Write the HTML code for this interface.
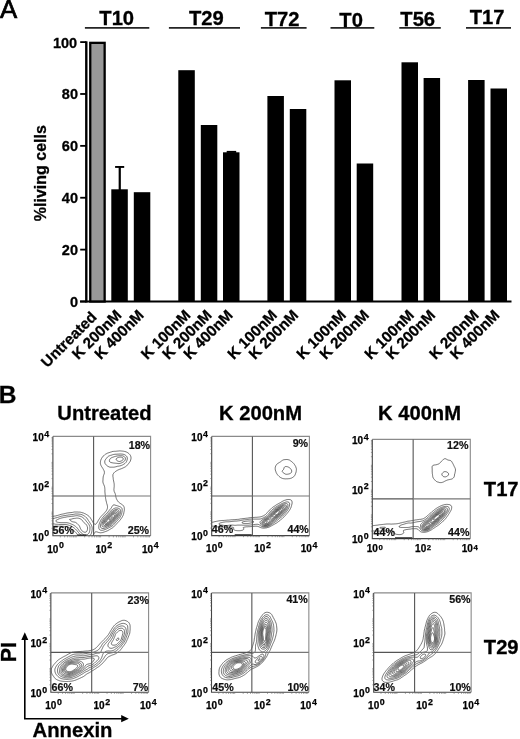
<!DOCTYPE html>
<html><head><meta charset="utf-8"><title>Figure</title>
<style>html,body{margin:0;padding:0;background:#fff}svg{display:block}text{font-family:"Liberation Sans", Arial, Helvetica, sans-serif;stroke:#000;stroke-width:.3px}.p{stroke:#111;stroke-width:.2px}.s{stroke-width:.25px}</style>
</head><body>
<svg width="520" height="739" viewBox="0 0 520 739" font-family='"Liberation Sans", Arial, Helvetica, sans-serif' fill="#000">
<rect width="520" height="739" fill="#fff"/>
<text x="-0.1" y="18" font-size="25.8" font-weight="400" style="stroke-width:.7px">A</text>
<rect x="85.1" y="41.3" width="2.4" height="261.2" fill="#000"/>
<rect x="80" y="300.5" width="431.5" height="2" fill="#000"/>
<rect x="80.2" y="300.60" width="6" height="1.8" fill="#000"/>
<text x="78" y="306.80" font-size="14.5" font-weight="700" text-anchor="end">0</text>
<rect x="80.2" y="248.72" width="6" height="1.8" fill="#000"/>
<text x="78" y="254.92" font-size="14.5" font-weight="700" text-anchor="end">20</text>
<rect x="80.2" y="196.84" width="6" height="1.8" fill="#000"/>
<text x="78" y="203.04" font-size="14.5" font-weight="700" text-anchor="end">40</text>
<rect x="80.2" y="144.96" width="6" height="1.8" fill="#000"/>
<text x="78" y="151.16" font-size="14.5" font-weight="700" text-anchor="end">60</text>
<rect x="80.2" y="93.08" width="6" height="1.8" fill="#000"/>
<text x="78" y="99.28" font-size="14.5" font-weight="700" text-anchor="end">80</text>
<rect x="80.2" y="41.20" width="6" height="1.8" fill="#000"/>
<text x="77.2" y="48.40" font-size="14.5" font-weight="700" text-anchor="end">100</text>
<text transform="translate(46 173.2) rotate(-90)" font-size="16" font-weight="700" text-anchor="middle">%living cells</text>
<rect x="90.25" y="42.85" width="14.4" height="258.65" fill="#999" stroke="#000" stroke-width="2.3"/>
<rect x="111.3" y="189.3" width="16.5" height="112.20" fill="#000"/>
<rect x="133.8" y="192.2" width="16.5" height="109.30" fill="#000"/>
<rect x="178.3" y="70.2" width="16.5" height="231.30" fill="#000"/>
<rect x="200.8" y="125" width="16.5" height="176.50" fill="#000"/>
<rect x="223.0" y="152.3" width="16.5" height="149.20" fill="#000"/>
<rect x="267.4" y="96" width="16.5" height="205.50" fill="#000"/>
<rect x="289.8" y="109" width="16.5" height="192.50" fill="#000"/>
<rect x="334.5" y="80.3" width="16.5" height="221.20" fill="#000"/>
<rect x="356.7" y="163.5" width="16.5" height="138.00" fill="#000"/>
<rect x="401.5" y="62.3" width="16.5" height="239.20" fill="#000"/>
<rect x="423.6" y="78" width="16.5" height="223.50" fill="#000"/>
<rect x="468.1" y="80" width="16.5" height="221.50" fill="#000"/>
<rect x="490.5" y="88.5" width="16.5" height="213.00" fill="#000"/>
<rect x="118.65" y="167" width="2.2" height="24" fill="#000"/><rect x="115.1" y="166" width="9.1" height="1.9" fill="#000"/>
<rect x="226.7" y="150.9" width="9.5" height="2" fill="#000"/>
<text x="99.3" y="25.3" font-size="20.2" font-weight="700">T10</text>
<rect x="84.9" y="27.15" width="64.40" height="1.5" fill="#000"/>
<text x="188.9" y="25.3" font-size="20.2" font-weight="700">T29</text>
<rect x="168.9" y="27.15" width="71.10" height="1.5" fill="#000"/>
<text x="264.7" y="25.7" font-size="20.2" font-weight="700">T72</text>
<rect x="260.9" y="27.15" width="45.70" height="1.5" fill="#000"/>
<text x="339.3" y="26.5" font-size="20.2" font-weight="700">T0</text>
<rect x="330.5" y="27.15" width="43.80" height="1.5" fill="#000"/>
<text x="400.3" y="26.3" font-size="20.2" font-weight="700">T56</text>
<rect x="399.3" y="27.15" width="41.50" height="1.5" fill="#000"/>
<text x="469.7" y="24.4" font-size="20.2" font-weight="700">T17</text>
<rect x="466" y="27.15" width="45.00" height="1.5" fill="#000"/>
<text transform="translate(97.5 318) rotate(-45)" font-size="15.2" font-weight="700" text-anchor="end">Untreated</text>
<text transform="translate(122.5 316) rotate(-45)" font-size="15.2" font-weight="700" text-anchor="end">K 200nM</text>
<text transform="translate(144.8 316) rotate(-45)" font-size="15.2" font-weight="700" text-anchor="end">K 400nM</text>
<text transform="translate(191.5 316) rotate(-45)" font-size="15.2" font-weight="700" text-anchor="end">K 100nM</text>
<text transform="translate(212.7 316) rotate(-45)" font-size="15.2" font-weight="700" text-anchor="end">K 200nM</text>
<text transform="translate(233.8 316) rotate(-45)" font-size="15.2" font-weight="700" text-anchor="end">K 400nM</text>
<text transform="translate(278 316) rotate(-45)" font-size="15.2" font-weight="700" text-anchor="end">K 100nM</text>
<text transform="translate(299.2 316) rotate(-45)" font-size="15.2" font-weight="700" text-anchor="end">K 200nM</text>
<text transform="translate(347 316) rotate(-45)" font-size="15.2" font-weight="700" text-anchor="end">K 100nM</text>
<text transform="translate(370 316) rotate(-45)" font-size="15.2" font-weight="700" text-anchor="end">K 200nM</text>
<text transform="translate(414.9 316) rotate(-45)" font-size="15.2" font-weight="700" text-anchor="end">K 100nM</text>
<text transform="translate(436.1 316) rotate(-45)" font-size="15.2" font-weight="700" text-anchor="end">K 200nM</text>
<text transform="translate(479.6 316) rotate(-45)" font-size="15.2" font-weight="700" text-anchor="end">K 200nM</text>
<text transform="translate(500.4 316) rotate(-45)" font-size="15.2" font-weight="700" text-anchor="end">K 400nM</text>
<text x="-1.3" y="402.6" font-size="24.5" font-weight="700">B</text>
<text x="57.3" y="420.4" font-size="20.2" font-weight="700">Untreated</text>
<text x="219" y="420.2" font-size="20.2" font-weight="700">K 200nM</text>
<text x="378" y="420.2" font-size="20.2" font-weight="700">K 400nM</text>
<text x="483.8" y="496.4" font-size="20.2" font-weight="700">T17</text>
<text x="483.8" y="653.5" font-size="20.2" font-weight="700">T29</text>
<text transform="translate(15.6 652.2) rotate(-90)" font-size="21.5" font-weight="700" text-anchor="middle">PI</text>
<text x="32.5" y="737.4" font-size="20.3" font-weight="700">Annexin</text>
<path d="M24.8 638 V718.7 H123" fill="none" stroke="#000" stroke-width="1.6"/>
<path d="M24.8 632.3 L21.3 640 H28.3 Z M128.8 718.7 L121.2 715.1 V722.3 Z" fill="#000"/>
<g transform="translate(52.9 436.4)">
<svg x="0" y="0" width="97.7" height="99.4" overflow="hidden"><path d="M0.0 80.0 0.5 79.9 1.5 79.7 2.5 79.6 3.0 79.4 4.0 79.2 4.8 79.0 5.5 78.8 6.5 78.5 7.0 78.3 8.0 78.0 8.5 77.9 9.5 77.7 10.5 77.5 11.0 77.4 12.0 77.2 12.6 77.0 13.5 76.8 14.5 76.6 15.2 76.5 16.0 76.4 17.0 76.3 18.0 76.2 19.0 76.1 19.6 76.0 20.5 75.8 21.5 75.6 22.5 75.6 23.5 75.6 24.5 75.6 25.5 75.7 26.5 75.7 27.5 75.8 28.4 76.0 29.0 76.2 30.0 76.5 30.5 76.6 31.4 77.0 32.0 77.3 32.5 77.5 33.4 78.0 34.0 78.4 34.5 78.7 35.0 79.0 35.6 79.5 36.2 80.0 36.7 80.5 37.1 81.0 37.5 81.6 38.0 82.4 38.4 83.0 38.7 83.5 39.0 84.0 39.5 84.9 39.8 85.5 40.1 86.0 40.5 86.6 41.0 87.2 41.5 87.7 42.1 88.0 42.5 88.0 43.2 87.5 43.6 87.0 44.0 86.5 44.5 85.7 44.9 85.0 45.2 84.5 45.5 83.9 46.0 83.1 46.4 82.5 46.7 82.0 47.1 81.5 47.5 80.9 48.0 80.3 48.5 79.7 49.0 79.2 49.5 78.7 50.0 78.2 50.5 77.7 51.0 77.2 51.5 76.6 52.0 76.1 52.5 75.5 52.9 75.0 53.3 74.5 53.6 74.0 54.0 73.3 54.3 72.5 54.5 71.9 54.6 71.0 54.6 70.0 54.5 69.4 54.3 68.5 54.0 67.5 53.8 67.0 53.6 66.0 53.5 65.5 53.2 64.5 53.0 63.6 52.9 63.0 52.7 62.0 52.6 61.0 52.5 60.3 52.4 59.5 52.3 58.5 52.2 57.5 52.1 56.5 52.0 55.5 52.0 54.5 52.0 53.5 52.0 52.9 51.9 52.0 51.8 51.0 51.6 50.0 51.4 49.5 51.0 48.5 50.8 48.0 50.5 47.4 50.2 46.5 50.0 45.5 50.0 44.5 50.1 43.5 50.1 42.5 50.2 41.5 50.3 40.5 50.5 39.5 50.7 39.0 51.0 38.2 51.3 37.5 51.5 36.7 51.5 36.0 51.5 35.5 51.2 34.5 51.0 34.0 50.5 33.1 50.2 32.5 49.9 32.0 49.5 31.4 49.0 30.6 48.6 30.0 48.3 29.5 48.0 28.8 47.7 28.0 47.5 27.0 47.5 26.0 47.6 25.0 47.8 24.0 48.0 23.5 48.4 22.5 48.7 22.0 49.0 21.5 49.5 20.7 50.0 20.1 50.5 19.5 51.0 19.1 51.5 18.6 52.0 18.3 52.5 17.9 53.2 17.5 54.0 17.1 54.5 16.8 55.3 16.5 56.0 16.3 56.9 16.0 57.5 15.8 58.5 15.5 59.0 15.3 60.0 15.0 60.5 15.0 61.5 14.9 62.5 14.9 63.5 14.8 64.5 14.7 65.5 14.6 66.5 14.5 67.5 14.5 68.5 14.6 69.5 14.7 70.5 14.8 71.5 15.0 72.0 15.1 73.0 15.4 73.5 15.6 74.3 16.0 75.0 16.4 75.5 16.8 76.0 17.2 76.5 17.7 77.0 18.3 77.5 19.0 77.7 19.5 78.0 20.4 78.1 21.0 78.1 22.0 78.0 22.6 77.8 23.5 77.5 24.5 77.3 25.0 76.9 25.5 76.5 26.1 76.0 26.8 75.5 27.4 75.0 28.0 74.6 28.5 74.2 29.0 73.7 29.5 73.1 30.0 72.5 30.4 72.0 30.7 71.3 31.0 70.5 31.4 70.0 31.6 69.2 32.0 68.5 32.3 68.0 32.5 67.0 32.8 66.5 33.0 65.5 33.4 65.0 33.6 64.3 34.0 63.5 34.5 63.0 34.8 62.5 35.2 62.0 35.5 61.5 36.0 61.0 36.5 60.5 37.3 60.1 38.0 60.0 38.5 60.0 39.5 60.0 40.0 60.2 41.0 60.3 42.0 60.4 43.0 60.5 43.5 60.7 44.5 60.9 45.5 61.0 46.0 61.2 47.0 61.3 48.0 61.3 49.0 61.3 50.0 61.2 51.0 61.1 52.0 61.0 53.0 61.1 54.0 61.3 55.0 61.5 55.5 62.0 56.5 62.2 57.0 62.5 58.0 62.6 58.5 62.8 59.5 63.0 60.5 63.1 61.0 63.4 62.0 63.6 62.5 64.0 63.3 64.4 64.0 64.7 64.5 65.0 65.0 65.5 65.5 66.1 66.0 66.7 66.5 67.4 67.0 68.0 67.4 68.5 67.7 69.0 68.0 69.7 68.5 70.2 69.0 70.6 69.5 71.0 70.2 71.3 71.0 71.4 72.0 71.5 73.0 71.4 74.0 71.2 75.0 71.0 75.9 70.9 76.5 70.7 77.5 70.5 78.1 70.2 79.0 69.9 79.5 69.5 80.3 69.1 81.0 68.8 81.5 68.4 82.0 68.0 82.6 67.5 83.3 67.0 83.9 66.5 84.4 66.0 85.0 65.5 85.5 65.0 86.0 64.5 86.5 64.1 87.0 63.6 87.5 63.2 88.0 62.7 88.5 62.2 89.0 61.8 89.5 61.3 90.0 60.8 90.5 60.2 91.0 59.5 91.5 59.0 91.8 58.5 92.1 57.8 92.5 57.0 93.0 56.5 93.3 56.0 93.6 55.3 94.0 54.5 94.4 54.0 94.6 53.1 95.0 52.5 95.2 51.6 95.5 51.0 95.7 50.1 96.0 49.5 96.2 48.5 96.3 47.5 96.4 46.5 96.2 45.5 96.0 45.0 95.8 44.0 95.5 43.5 95.4 42.5 95.5 42.0 95.9 41.6 96.5 41.3 97.0 41.0 97.5 40.5 98.3 40.1 99.0 39.8 99.5M25.6 99.5 25.2 99.0 24.8 98.5 24.4 98.0 24.0 97.5 23.5 96.8 23.0 96.2 22.5 95.6 22.0 95.1 21.5 94.7 21.0 94.3 20.5 93.9 19.9 93.5 19.2 93.0 18.5 92.6 18.0 92.2 17.5 91.9 16.7 91.5 16.0 91.2 15.5 91.0 14.5 90.7 14.0 90.5 13.0 90.2 12.0 90.1 11.5 90.0 10.5 89.9 9.5 89.9 8.5 89.9 7.5 89.8 6.5 89.8 5.5 89.8 4.5 89.7 3.5 89.7 2.5 89.7 1.5 89.8 0.5 89.7M61.2 18.0 62.0 17.9 63.0 17.8 64.0 17.8 65.0 17.7 66.0 17.7 67.0 17.6 68.0 17.6 69.0 17.7 70.0 17.8 70.9 18.0 71.5 18.2 72.1 18.5 72.8 19.0 73.4 19.5 73.8 20.0 74.1 20.5 74.4 21.5 74.4 22.5 74.2 23.5 74.0 24.2 73.7 25.0 73.4 25.5 73.0 26.1 72.5 26.6 72.0 27.1 71.4 27.5 70.6 28.0 70.0 28.3 69.5 28.6 68.6 29.0 68.0 29.2 67.0 29.5 66.5 29.6 65.5 29.8 64.5 29.9 64.0 30.1 63.0 30.3 62.4 30.5 61.5 30.7 60.5 30.8 59.5 30.8 58.5 30.8 57.5 30.8 56.5 30.6 56.0 30.4 55.1 30.0 54.5 29.6 54.0 29.2 53.5 28.8 53.0 28.2 52.5 27.6 52.1 27.0 52.0 26.5 51.8 25.5 52.0 24.5 52.1 24.0 52.5 23.3 53.0 22.6 53.5 22.0 53.9 21.5 54.3 21.0 54.7 20.5 55.3 20.0 56.0 19.6 56.5 19.4 57.5 19.0 58.0 18.9 59.0 18.6 59.5 18.4 60.5 18.1 61.2 18.0M60.8 68.5 61.2 68.5 62.0 68.6 63.0 69.0 63.5 69.1 64.5 69.4 65.0 69.6 66.0 69.9 66.5 70.1 67.5 70.5 68.0 70.8 68.5 71.2 69.0 71.9 69.2 72.5 69.3 73.5 69.2 74.5 69.1 75.5 69.0 76.0 68.8 77.0 68.5 78.0 68.3 78.5 68.0 79.2 67.6 80.0 67.3 80.5 67.0 81.0 66.5 81.7 66.0 82.4 65.5 83.0 65.0 83.5 64.6 84.0 64.1 84.5 63.6 85.0 63.2 85.5 62.8 86.0 62.3 86.5 61.9 87.0 61.4 87.5 61.0 88.0 60.5 88.5 60.0 89.0 59.4 89.5 58.6 90.0 58.0 90.4 57.5 90.6 56.7 91.0 56.0 91.4 55.5 91.6 54.8 92.0 54.0 92.4 53.5 92.6 52.7 93.0 52.0 93.2 51.1 93.5 50.5 93.7 49.5 93.9 48.5 93.9 47.5 93.7 47.0 93.5 46.4 93.0 46.0 92.1 45.9 91.5 45.9 90.5 46.0 89.5 46.0 89.0 46.2 88.0 46.5 87.1 46.7 86.5 47.0 85.8 47.4 85.0 47.6 84.5 48.0 83.7 48.4 83.0 48.8 82.5 49.1 82.0 49.5 81.5 50.0 80.8 50.5 80.2 51.0 79.7 51.5 79.1 52.0 78.6 52.5 78.1 53.0 77.6 53.5 77.2 54.0 76.7 54.5 76.2 55.0 75.6 55.5 75.0 55.9 74.5 56.3 74.0 56.7 73.5 57.1 73.0 57.6 72.5 58.0 72.0 58.5 71.3 59.0 70.5 59.2 70.0 59.5 69.5 60.0 68.9 60.8 68.5M0.0 82.3 1.0 82.0 1.5 81.9 2.5 81.6 3.0 81.5 4.0 81.2 4.7 81.0 5.5 80.8 6.3 80.5 7.0 80.3 7.8 80.0 8.5 79.8 9.5 79.6 10.0 79.5 11.0 79.3 12.0 79.2 12.9 79.0 13.5 78.9 14.5 78.8 15.5 78.6 16.5 78.5 17.0 78.5 18.0 78.3 19.0 78.2 20.0 78.1 20.5 78.0 21.5 77.8 22.5 77.6 23.5 77.6 24.5 77.6 25.5 77.7 26.5 77.8 27.5 77.9 28.0 78.0 29.0 78.3 29.5 78.5 30.5 79.0 31.0 79.3 31.5 79.6 32.0 80.0 32.7 80.5 33.2 81.0 33.8 81.5 34.2 82.0 34.5 82.5 35.0 83.3 35.4 84.0 35.8 84.5 36.1 85.0 36.5 85.6 37.0 86.3 37.4 87.0 37.8 87.5 38.1 88.0 38.5 88.8 38.8 89.5 39.0 90.0 39.2 91.0 39.3 92.0 39.2 93.0 39.1 94.0 39.0 94.6 38.9 95.5 38.6 96.5 38.5 97.0 38.0 97.9 37.6 98.5 37.1 99.0 36.6 99.5M28.9 99.5 28.4 99.0 27.8 98.5 27.3 98.0 26.8 97.5 26.3 97.0 25.9 96.5 25.5 96.0 25.0 95.4 24.5 94.8 24.0 94.2 23.5 93.6 23.0 93.1 22.5 92.6 22.0 92.2 21.5 91.8 21.0 91.4 20.4 91.0 19.7 90.5 19.0 90.1 18.5 89.8 17.8 89.5 17.0 89.2 16.5 89.0 15.5 88.7 14.8 88.5 14.0 88.3 13.0 88.2 12.0 88.1 11.0 88.1 10.0 88.1 9.0 88.1 8.0 88.1 7.0 88.1 6.0 88.0 5.5 88.0 4.5 87.9 3.5 87.9 2.5 87.8 1.5 87.6 0.9 87.5 0.0 87.4M64.8 19.5 65.5 19.4 66.5 19.3 67.5 19.3 68.5 19.3 69.5 19.4 70.0 19.5 71.0 20.0 71.5 20.3 72.0 20.8 72.4 21.5 72.5 22.5 72.3 23.5 72.0 24.1 71.5 24.8 71.0 25.2 70.5 25.5 69.6 26.0 69.0 26.3 68.5 26.5 67.5 26.9 67.0 27.0 66.0 27.2 65.0 27.1 64.2 27.0 63.5 26.9 62.5 26.8 61.5 26.7 60.5 26.6 59.9 26.5 59.0 26.3 58.0 26.1 57.5 25.9 56.9 25.5 56.5 24.7 56.5 24.0 56.6 23.5 57.0 22.7 57.5 22.1 58.0 21.7 58.5 21.4 59.5 21.0 60.0 20.8 60.9 20.5 61.5 20.3 62.5 20.0 63.0 19.9 64.0 19.6 64.8 19.5M61.4 72.0 62.0 71.8 63.0 71.5 64.0 71.6 65.0 71.7 65.8 72.0 66.5 72.3 67.0 72.7 67.5 73.5 67.6 74.0 67.7 75.0 67.6 76.0 67.5 76.6 67.3 77.5 67.0 78.3 66.7 79.0 66.4 79.5 66.0 80.2 65.5 81.0 65.1 81.5 64.7 82.0 64.3 82.5 63.9 83.0 63.4 83.5 62.9 84.0 62.5 84.5 62.0 85.1 61.5 85.7 61.0 86.2 60.5 86.8 60.0 87.3 59.5 87.8 59.0 88.2 58.5 88.6 57.9 89.0 57.0 89.5 56.5 89.7 55.9 90.0 55.0 90.4 54.5 90.7 53.8 91.0 53.0 91.4 52.5 91.6 51.5 91.9 51.0 92.0 50.0 92.1 49.0 92.0 48.5 91.8 48.0 91.2 47.7 90.5 47.6 89.5 47.7 88.5 47.9 87.5 48.1 87.0 48.5 86.0 48.7 85.5 49.0 84.8 49.4 84.0 49.7 83.5 50.0 83.0 50.5 82.3 51.0 81.6 51.5 81.0 52.0 80.5 52.4 80.0 52.9 79.5 53.4 79.0 53.9 78.5 54.5 78.0 55.0 77.5 55.5 77.0 55.9 76.5 56.4 76.0 56.8 75.5 57.3 75.0 57.9 74.5 58.5 74.0 59.0 73.6 59.5 73.2 60.0 72.9 60.5 72.5 61.4 72.0M21.9 79.5 22.5 79.4 23.5 79.3 24.5 79.3 25.5 79.5 26.0 79.6 27.0 79.8 27.8 80.0 28.5 80.3 29.0 80.5 29.7 81.0 30.4 81.5 31.0 82.0 31.5 82.5 32.0 83.0 32.4 83.5 32.8 84.0 33.1 84.5 33.5 85.0 34.0 85.6 34.5 86.1 35.0 86.7 35.5 87.4 35.9 88.0 36.2 88.5 36.5 89.1 36.9 90.0 37.0 90.6 37.1 91.5 37.0 92.5 37.0 93.0 36.9 94.0 36.7 95.0 36.5 95.7 36.2 96.5 35.8 97.0 35.3 97.5 34.7 98.0 34.0 98.4 33.5 98.6 32.5 98.8 31.5 98.7 31.0 98.5 30.2 98.0 29.5 97.5 29.0 97.0 28.5 96.6 28.0 96.1 27.5 95.6 27.0 95.1 26.5 94.5 26.1 94.0 25.8 93.5 25.4 93.0 25.0 92.5 24.5 91.8 24.0 91.2 23.5 90.7 23.0 90.3 22.5 89.9 21.9 89.5 21.2 89.0 20.5 88.6 20.0 88.3 19.3 88.0 18.5 87.7 18.0 87.5 17.0 87.1 16.5 86.9 15.5 86.6 15.0 86.5 14.0 86.3 13.0 86.3 12.0 86.3 11.0 86.3 10.0 86.3 9.0 86.3 8.0 86.3 7.0 86.2 6.0 86.1 5.5 86.0 4.5 85.8 3.7 85.5 3.0 85.0 2.8 84.5 3.2 84.0 3.9 83.5 4.5 83.2 5.0 83.0 6.0 82.5 6.5 82.3 7.3 82.0 8.0 81.8 9.0 81.5 9.5 81.4 10.5 81.2 11.5 81.0 12.0 80.9 13.0 80.7 14.0 80.5 14.5 80.4 15.5 80.3 16.5 80.2 17.5 80.1 18.5 80.0 19.0 79.9 20.0 79.8 21.0 79.7 21.9 79.5M65.6 21.0 66.5 20.8 67.5 20.7 68.5 20.8 69.1 21.0 70.0 21.5 70.3 22.0 70.3 23.0 70.0 23.5 69.4 24.0 68.5 24.5 68.0 24.7 67.1 25.0 66.5 25.1 65.8 25.0 65.0 24.7 64.5 24.5 63.8 24.0 63.3 23.5 63.3 22.5 63.7 22.0 64.4 21.5 65.0 21.2 65.6 21.0M61.7 73.5 62.5 73.2 63.5 73.1 64.5 73.2 65.2 73.5 65.8 74.0 66.1 74.5 66.3 75.5 66.3 76.5 66.1 77.5 65.9 78.0 65.5 78.9 65.2 79.5 64.9 80.0 64.5 80.7 64.0 81.3 63.5 81.9 63.0 82.5 62.5 83.0 62.1 83.5 61.7 84.0 61.2 84.5 60.8 85.0 60.3 85.5 59.9 86.0 59.4 86.5 58.8 87.0 58.2 87.5 57.5 88.0 57.0 88.3 56.5 88.6 55.7 89.0 55.0 89.3 54.5 89.5 53.5 89.9 53.0 90.1 52.0 90.4 51.4 90.5 50.5 90.5 50.0 90.4 49.5 90.0 49.1 89.0 49.1 88.0 49.3 87.0 49.5 86.5 49.8 85.5 50.1 85.0 50.5 84.1 50.9 83.5 51.2 83.0 51.6 82.5 52.0 82.0 52.5 81.5 53.0 80.9 53.5 80.4 54.0 79.8 54.5 79.3 55.0 78.9 55.5 78.4 56.0 77.9 56.5 77.4 57.0 76.9 57.5 76.4 58.0 76.0 58.6 75.5 59.3 75.0 60.0 74.5 60.5 74.2 61.0 73.9 61.7 73.5M21.7 82.0 22.5 81.9 23.5 81.7 24.5 81.7 25.5 81.8 26.3 82.0 27.0 82.3 27.5 82.5 28.3 83.0 28.9 83.5 29.4 84.0 29.8 84.5 30.1 85.0 30.5 85.6 31.0 86.2 31.5 86.6 32.0 87.0 32.7 87.5 33.2 88.0 33.6 88.5 34.0 89.2 34.3 90.0 34.5 90.5 34.7 91.5 34.6 92.5 34.5 93.3 34.3 94.0 34.0 94.7 33.5 95.4 33.0 95.7 32.0 95.9 31.0 95.6 30.5 95.4 29.8 95.0 29.2 94.5 28.7 94.0 28.4 93.5 28.0 92.9 27.5 92.0 27.3 91.5 27.0 90.8 26.7 90.0 26.4 89.5 26.0 89.0 25.5 88.4 25.0 87.9 24.5 87.4 24.0 86.9 23.5 86.5 22.7 86.0 22.0 85.8 21.0 85.6 20.3 85.5 19.5 85.3 18.9 85.0 18.0 84.5 17.5 84.1 17.0 83.7 16.7 83.0 17.5 82.9 18.5 82.7 19.1 82.5 20.0 82.3 21.0 82.1 21.7 82.0M62.0 74.5 63.0 74.3 64.0 74.4 64.5 74.7 65.0 75.3 65.2 76.0 65.2 77.0 65.0 77.8 64.8 78.5 64.5 79.2 64.0 80.0 63.7 80.5 63.3 81.0 62.9 81.5 62.5 82.0 62.0 82.6 61.5 83.1 61.0 83.7 60.5 84.2 60.0 84.8 59.5 85.3 59.0 85.8 58.5 86.3 58.0 86.7 57.5 87.0 56.8 87.5 56.0 88.0 55.5 88.2 55.0 88.5 54.0 88.9 53.5 89.1 52.5 89.3 51.5 89.2 50.9 89.0 50.5 88.5 50.3 87.5 50.4 86.5 50.5 86.0 50.9 85.0 51.1 84.5 51.5 83.9 52.0 83.2 52.5 82.6 53.0 82.0 53.5 81.5 53.9 81.0 54.4 80.5 54.9 80.0 55.4 79.5 55.9 79.0 56.4 78.5 57.0 78.0 57.5 77.5 58.0 77.0 58.5 76.6 59.0 76.2 59.5 75.9 60.2 75.5 61.0 75.0 61.5 74.7 62.0 74.5M61.2 76.0 62.0 75.7 63.0 75.6 63.7 76.0 64.0 76.7 64.1 77.5 64.0 78.0 63.7 79.0 63.4 79.5 63.0 80.2 62.5 80.9 62.0 81.5 61.6 82.0 61.1 82.5 60.7 83.0 60.2 83.5 59.8 84.0 59.3 84.5 58.8 85.0 58.2 85.5 57.6 86.0 57.0 86.5 56.5 86.8 56.0 87.1 55.3 87.5 54.5 87.9 54.0 88.0 53.0 88.2 52.1 88.0 51.6 87.5 51.4 87.0 51.4 86.0 51.5 85.5 52.0 84.5 52.3 84.0 52.7 83.5 53.1 83.0 53.6 82.5 54.0 82.0 54.5 81.4 55.0 80.9 55.5 80.3 56.0 79.9 56.5 79.4 57.0 78.9 57.5 78.5 58.0 78.0 58.6 77.5 59.3 77.0 60.0 76.6 60.5 76.3 61.2 76.0M61.2 77.0 62.0 76.9 62.5 77.0 63.0 78.0 62.8 79.0 62.5 79.6 62.0 80.4 61.6 81.0 61.2 81.5 60.8 82.0 60.3 82.5 59.8 83.0 59.4 83.5 58.9 84.0 58.3 84.5 57.8 85.0 57.1 85.5 56.5 86.0 56.0 86.3 55.5 86.6 54.6 87.0 54.0 87.2 53.0 87.1 52.5 86.7 52.3 86.0 52.5 85.2 52.8 84.5 53.2 84.0 53.6 83.5 54.0 83.0 54.5 82.4 55.0 81.8 55.5 81.3 56.0 80.7 56.5 80.3 57.0 79.8 57.5 79.3 58.0 78.9 58.5 78.5 59.1 78.0 60.0 77.5 60.5 77.2 61.2 77.0M59.8 78.5 60.5 78.3 61.5 78.4 61.7 79.0 61.5 79.7 61.1 80.5 60.7 81.0 60.3 81.5 59.9 82.0 59.4 82.5 58.9 83.0 58.4 83.5 57.9 84.0 57.3 84.5 56.6 85.0 56.0 85.4 55.5 85.6 54.5 86.0 54.0 86.0 53.6 85.5 53.9 84.5 54.2 84.0 54.5 83.5 55.0 82.9 55.5 82.3 56.0 81.7 56.5 81.2 57.0 80.7 57.5 80.2 58.0 79.8 58.5 79.4 59.0 79.0 59.8 78.5M58.9 80.5 59.0 80.4 59.5 80.4 59.5 80.5 59.5 80.6 59.3 81.0 59.0 81.5 59.0 81.5 58.6 82.0 58.5 82.1 58.1 82.5 58.0 82.6 57.6 83.0 57.5 83.1 57.0 83.5 56.9 83.5 56.5 83.7 56.1 83.5 56.3 83.0 56.5 82.6 56.5 82.5 57.0 82.0 57.0 82.0 57.5 81.5 57.5 81.5 58.0 81.1 58.1 81.0 58.5 80.7 58.9 80.5" fill="none" stroke="#333" stroke-width="0.7"/></svg>
<path d="M0 0H97.7V99.4" fill="none" stroke="#8a8a8a" stroke-width="1.1"/>
<path d="M0 0V99.4H97.7" fill="none" stroke="#444" stroke-width="1.1"/>
<path d="M40.7 0V99.4M0 59.6H40.7" stroke="#555" stroke-width="1.1" fill="none"/>
<path d="M40.7 59.6H97.7" stroke="#777" stroke-width="1.1" fill="none"/>
<path d="M24.5 98.7H33.5" stroke="#222" stroke-width="1.3" fill="none"/>
<path d="M7.4 99.4v1.6M0 91.9h-1.4M11.7 99.4v1.6M0 87.5h-1.4M14.7 99.4v1.6M0 84.4h-1.4M17.1 99.4v1.6M0 82.0h-1.4M19.0 99.4v1.6M0 80.1h-1.4M20.6 99.4v1.6M0 78.4h-1.4M22.1 99.4v1.6M0 77.0h-1.4M23.3 99.4v1.6M0 75.7h-1.4M31.8 99.4v1.6M0 67.1h-1.4M36.1 99.4v1.6M0 62.7h-1.4M39.1 99.4v1.6M0 59.6h-1.4M41.5 99.4v1.6M0 57.2h-1.4M43.4 99.4v1.6M0 55.2h-1.4M45.1 99.4v1.6M0 53.5h-1.4M46.5 99.4v1.6M0 52.1h-1.4M47.7 99.4v1.6M0 50.8h-1.4M56.2 99.4v1.6M0 42.2h-1.4M60.5 99.4v1.6M0 37.8h-1.4M63.6 99.4v1.6M0 34.7h-1.4M65.9 99.4v1.6M0 32.3h-1.4M67.9 99.4v1.6M0 30.4h-1.4M69.5 99.4v1.6M0 28.7h-1.4M70.9 99.4v1.6M0 27.3h-1.4M72.2 99.4v1.6M0 26.0h-1.4M80.6 99.4v1.6M0 17.4h-1.4M84.9 99.4v1.6M0 13.0h-1.4M88.0 99.4v1.6M0 9.9h-1.4M90.3 99.4v1.6M0 7.5h-1.4M92.3 99.4v1.6M0 5.5h-1.4M93.9 99.4v1.6M0 3.8h-1.4M95.3 99.4v1.6M0 2.4h-1.4M96.6 99.4v1.6M0 1.1h-1.4" stroke="#666" stroke-width="0.6" fill="none"/>
<text class="p" x="97.20" y="13.1" font-size="10.7" font-weight="700" text-anchor="end" fill="#111">18%</text>
<text class="p" x="96.20" y="97.80" font-size="10.7" font-weight="700" text-anchor="end" fill="#111">25%</text>
<text class="p" x="-0.35" y="97.30" font-size="10.7" font-weight="700" fill="#111">56%</text>
<text class="s" x="-5.6" y="116.2" font-size="10" font-weight="700">10<tspan dx="0.6" dy="-4.3" font-size="8.8">0</tspan></text>
<text class="s" x="-3.7" y="104.2" font-size="10" font-weight="700" text-anchor="end">10<tspan dx="0.6" dy="-4.3" font-size="8.8">0</tspan></text>
<text class="s" x="42.6" y="116.2" font-size="10" font-weight="700">10<tspan dx="0.6" dy="-4.3" font-size="8.8">2</tspan></text>
<text class="s" x="-3.7" y="54.5" font-size="10" font-weight="700" text-anchor="end">10<tspan dx="0.6" dy="-4.3" font-size="8.8">2</tspan></text>
<text class="s" x="89.1" y="116.2" font-size="10" font-weight="700">10<tspan dx="0.6" dy="-4.3" font-size="8.8">4</tspan></text>
<text class="s" x="-3.7" y="4.8" font-size="10" font-weight="700" text-anchor="end">10<tspan dx="0.6" dy="-4.3" font-size="8.8">4</tspan></text>
</g>
<g transform="translate(211.7 436.4)">
<svg x="0" y="0" width="97.7" height="99.2" overflow="hidden"><path d="M71.6 23.5 72.5 23.3 73.5 23.2 74.5 23.1 75.5 23.1 76.5 23.3 77.3 23.5 78.0 23.8 78.5 24.2 79.0 24.5 79.7 25.0 80.3 25.5 80.9 26.0 81.4 26.5 81.9 27.0 82.3 27.5 82.7 28.0 83.0 28.5 83.5 29.3 83.9 30.0 84.1 30.5 84.4 31.5 84.6 32.0 84.7 33.0 84.6 34.0 84.5 34.9 84.4 35.5 84.1 36.5 83.9 37.0 83.6 38.0 83.3 38.5 83.0 39.1 82.5 39.8 82.0 40.3 81.5 40.7 81.0 41.0 80.1 41.5 79.5 41.8 78.7 42.0 78.0 42.2 77.0 42.3 76.0 42.4 75.0 42.4 74.0 42.5 73.0 42.4 72.0 42.3 71.0 42.1 70.5 41.9 69.6 41.5 69.0 41.2 68.5 40.9 68.0 40.5 67.4 40.0 66.9 39.5 66.4 39.0 66.0 38.5 65.5 37.9 65.0 37.1 64.7 36.5 64.4 36.0 64.1 35.0 63.9 34.5 63.6 33.5 63.5 32.5 63.5 32.0 63.5 31.4 63.7 30.5 64.0 29.6 64.3 29.0 64.6 28.5 65.0 28.0 65.5 27.5 66.2 27.0 67.0 26.5 67.5 26.2 68.0 25.9 68.7 25.5 69.3 25.0 69.9 24.5 70.5 24.1 71.0 23.8 71.6 23.5M0.0 86.0 1.0 85.8 2.0 85.6 2.5 85.4 3.5 85.2 4.4 85.0 5.0 84.9 6.0 84.7 7.0 84.5 7.5 84.4 8.5 84.3 9.5 84.2 10.5 84.1 11.5 84.1 12.5 84.0 13.0 84.0 14.0 83.9 15.0 83.8 16.0 83.7 17.0 83.7 18.0 83.6 18.8 83.5 19.5 83.4 20.5 83.4 21.5 83.3 22.5 83.3 23.5 83.2 24.5 83.1 25.5 83.0 26.0 83.0 27.0 82.9 28.0 82.7 29.0 82.5 29.5 82.5 30.5 82.3 31.5 82.2 32.5 82.1 33.4 82.0 34.0 81.9 35.0 81.8 36.0 81.7 37.0 81.5 37.5 81.4 38.5 81.3 39.5 81.2 40.5 81.1 41.5 81.1 42.3 81.0 43.0 81.0 44.0 80.9 45.0 80.9 46.0 80.8 47.0 80.7 48.0 80.6 48.5 80.5 49.5 80.3 50.4 80.0 51.0 79.7 51.6 79.5 52.5 79.0 53.0 78.6 53.5 78.3 54.0 77.9 54.5 77.4 55.0 76.9 55.5 76.3 56.0 75.7 56.5 75.2 57.0 74.6 57.5 74.1 58.0 73.5 58.5 73.1 59.0 72.6 59.5 72.2 60.0 71.7 60.5 71.3 61.0 70.9 61.6 70.5 62.4 70.0 63.0 69.6 63.5 69.2 64.0 68.9 64.6 68.5 65.4 68.0 66.0 67.7 66.5 67.4 67.2 67.0 68.0 66.6 68.5 66.3 69.0 66.0 69.8 65.5 70.5 65.1 71.0 64.8 71.6 64.5 72.5 64.1 73.0 63.9 74.0 63.6 74.5 63.4 75.5 63.2 76.5 63.1 77.5 63.1 78.5 63.3 79.1 63.5 79.8 64.0 80.1 64.5 80.4 65.5 80.4 66.5 80.3 67.5 80.0 68.5 79.9 69.0 79.6 70.0 79.5 70.5 79.1 71.5 78.8 72.0 78.5 72.7 78.0 73.5 77.7 74.0 77.4 74.5 77.0 75.0 76.5 75.6 76.0 76.3 75.5 76.9 75.0 77.4 74.5 78.0 74.1 78.5 73.7 79.0 73.2 79.5 72.8 80.0 72.3 80.5 71.7 81.0 71.1 81.5 70.6 82.0 70.0 82.5 69.5 83.0 69.0 83.4 68.5 83.9 68.0 84.3 67.5 84.6 67.0 85.0 66.4 85.5 65.7 86.0 65.0 86.5 64.5 86.8 64.0 87.1 63.2 87.5 62.5 87.9 62.0 88.2 61.4 88.5 60.6 89.0 60.0 89.3 59.5 89.6 58.7 90.0 58.0 90.4 57.5 90.6 56.5 91.0 56.0 91.1 55.0 91.4 54.4 91.5 53.5 91.6 52.5 91.7 51.5 91.7 50.5 91.6 50.0 91.5 49.0 91.2 48.5 91.0 47.5 90.5 47.0 90.3 46.1 90.0 45.5 89.9 44.5 89.8 43.5 89.8 42.5 89.9 41.5 90.0 41.0 90.0 40.0 90.1 39.0 90.2 38.0 90.3 37.0 90.3 36.0 90.4 35.0 90.4 34.1 90.5 33.5 90.6 32.5 90.8 31.7 91.0 31.5 91.5 31.9 92.0 32.1 92.5 32.0 93.0 31.5 93.5 30.5 93.9 30.0 94.0 29.0 94.2 28.0 94.3 27.0 94.3 26.0 94.3 25.0 94.2 24.0 94.1 23.5 94.0 22.5 93.6 22.0 93.1 21.9 92.5 22.0 92.0 22.0 91.3 21.5 91.0 20.5 90.8 19.5 90.7 18.5 90.7 17.5 90.7 16.5 90.7 15.5 90.7 14.5 90.7 13.5 90.7 12.5 90.7 11.5 90.7 10.5 90.7 9.5 90.7 8.5 90.7 7.5 90.7 6.5 90.6 5.5 90.5 5.0 90.4 4.0 90.2 3.0 90.0 2.5 89.9 1.5 89.8 0.5 89.7M73.0 30.5 74.0 30.1 75.0 30.2 76.0 30.4 76.5 30.6 77.3 31.0 78.0 31.5 78.5 31.9 79.0 32.4 79.4 33.0 79.7 33.5 80.0 34.5 80.0 34.7 79.9 35.5 79.5 36.3 79.0 36.8 78.5 37.1 77.5 37.5 77.0 37.6 76.0 37.8 75.0 37.9 74.0 37.8 73.3 37.5 72.5 37.0 72.0 36.7 71.5 36.3 71.0 35.8 70.5 35.0 70.9 34.0 71.5 33.5 71.9 33.0 72.1 32.5 72.3 31.5 72.6 31.0 73.0 30.5M75.4 65.5 76.0 65.5 76.5 65.6 77.3 66.0 77.7 66.5 78.0 67.5 77.9 68.5 77.7 69.5 77.5 70.2 77.2 71.0 77.0 71.5 76.5 72.5 76.2 73.0 76.0 73.5 75.5 74.3 75.0 75.0 74.6 75.5 74.2 76.0 73.8 76.5 73.4 77.0 73.0 77.5 72.5 78.0 72.0 78.6 71.5 79.1 71.0 79.6 70.5 80.0 69.9 80.5 69.3 81.0 68.6 81.5 68.0 82.0 67.5 82.4 67.0 82.9 66.5 83.3 66.0 83.7 65.5 84.1 65.0 84.5 64.3 85.0 63.6 85.5 63.0 85.9 62.5 86.2 62.0 86.6 61.4 87.0 60.7 87.5 60.0 88.0 59.5 88.3 59.0 88.7 58.4 89.0 57.5 89.5 57.0 89.7 56.3 90.0 55.5 90.3 54.5 90.5 54.0 90.6 53.0 90.6 52.0 90.6 51.5 90.5 50.5 90.2 50.0 90.0 49.1 89.5 48.5 89.1 48.0 88.7 47.5 88.4 46.5 88.0 46.0 87.9 45.0 87.9 44.0 88.0 43.5 88.0 42.5 88.2 41.5 88.3 40.5 88.5 40.0 88.5 39.0 88.6 38.0 88.7 37.0 88.8 36.0 88.8 35.0 88.8 34.0 88.8 33.0 88.8 32.0 88.8 31.0 88.8 30.0 88.7 29.0 88.7 28.0 88.7 27.0 88.7 26.0 88.7 25.0 88.8 24.0 88.9 23.0 88.9 22.0 88.8 21.0 88.7 20.0 88.7 19.0 88.7 18.0 88.8 17.0 88.9 16.5 89.0 15.5 89.1 14.5 89.2 13.5 89.1 12.5 89.1 12.0 89.0 11.0 88.8 10.0 88.7 9.0 88.6 8.5 88.5 7.5 88.1 7.0 87.5 7.5 87.0 8.5 86.6 9.0 86.4 10.0 86.2 10.7 86.0 11.5 85.8 12.5 85.7 13.5 85.5 14.0 85.5 15.0 85.4 16.0 85.4 17.0 85.4 18.0 85.3 19.0 85.2 20.0 85.1 20.5 85.0 21.5 84.9 22.5 84.8 23.5 84.7 24.5 84.7 25.5 84.6 26.5 84.5 27.0 84.4 28.0 84.3 29.0 84.1 29.5 84.0 30.5 83.8 31.5 83.6 32.5 83.5 33.0 83.4 34.0 83.3 35.0 83.2 36.0 83.1 36.5 83.0 37.5 82.8 38.5 82.8 39.5 82.7 40.5 82.7 41.5 82.7 42.5 82.7 43.5 82.7 44.5 82.7 45.5 82.7 46.5 82.7 47.5 82.7 48.5 82.6 49.2 82.5 50.0 82.2 50.5 82.0 51.5 81.5 52.0 81.3 52.5 81.0 53.4 80.5 54.0 80.1 54.5 79.7 55.0 79.4 55.5 78.9 56.0 78.4 56.5 77.8 57.0 77.2 57.5 76.6 58.0 76.0 58.4 75.5 58.8 75.0 59.3 74.5 59.8 74.0 60.3 73.5 60.9 73.0 61.5 72.5 62.0 72.1 62.5 71.7 63.0 71.4 63.6 71.0 64.4 70.5 65.0 70.1 65.5 69.8 66.0 69.5 66.8 69.0 67.5 68.6 68.0 68.4 68.7 68.0 69.5 67.5 70.0 67.3 70.6 67.0 71.5 66.6 72.0 66.4 73.0 66.1 73.5 65.9 74.5 65.6 75.4 65.5M72.5 67.5 73.5 67.3 74.5 67.2 75.5 67.4 76.0 67.8 76.3 68.5 76.2 69.5 76.0 70.5 75.8 71.0 75.5 71.8 75.2 72.5 74.9 73.0 74.5 73.7 74.0 74.4 73.6 75.0 73.2 75.5 72.8 76.0 72.4 76.5 71.9 77.0 71.5 77.5 71.0 78.0 70.5 78.5 69.9 79.0 69.3 79.5 68.7 80.0 68.0 80.5 67.5 80.9 67.0 81.3 66.5 81.7 66.0 82.1 65.5 82.5 64.9 83.0 64.3 83.5 63.7 84.0 63.1 84.5 62.5 84.9 62.0 85.3 61.5 85.7 61.0 86.1 60.5 86.5 59.9 87.0 59.3 87.5 58.6 88.0 58.0 88.4 57.5 88.7 56.9 89.0 56.0 89.4 55.5 89.6 54.5 89.8 53.5 89.9 52.5 89.9 51.5 89.7 51.0 89.5 50.2 89.0 49.7 88.5 49.3 88.0 49.0 87.5 48.5 86.6 48.3 86.0 48.5 85.2 49.0 84.7 49.5 84.2 50.0 83.9 50.5 83.5 51.2 83.0 52.0 82.5 52.5 82.2 53.0 81.9 53.7 81.5 54.5 81.0 55.0 80.7 55.5 80.4 56.0 80.0 56.5 79.5 57.0 79.0 57.5 78.4 58.0 77.8 58.5 77.1 59.0 76.5 59.4 76.0 59.9 75.5 60.3 75.0 60.8 74.5 61.4 74.0 62.0 73.5 62.5 73.1 63.0 72.7 63.5 72.3 64.0 72.0 64.7 71.5 65.5 71.0 66.0 70.7 66.5 70.4 67.1 70.0 68.0 69.5 68.5 69.2 69.0 69.0 69.9 68.5 70.5 68.2 71.0 68.0 72.0 67.6 72.5 67.5M33.3 85.0 34.0 84.9 35.0 84.8 36.0 84.7 37.0 84.6 38.0 84.6 39.0 84.6 40.0 84.7 41.0 84.9 41.7 85.0 42.2 85.5 41.5 86.0 41.0 86.2 40.0 86.4 39.5 86.5 38.5 86.7 37.5 86.9 37.0 87.0 36.0 87.1 35.0 87.1 34.0 87.1 33.0 87.1 32.0 87.1 31.5 87.0 30.5 86.6 30.3 86.0 31.0 85.6 31.5 85.4 32.5 85.2 33.3 85.0M71.0 69.0 71.5 68.8 72.5 68.6 73.5 68.6 74.5 69.0 74.7 69.5 74.8 70.5 74.5 71.4 74.3 72.0 74.0 72.6 73.5 73.4 73.2 74.0 72.8 74.5 72.4 75.0 72.0 75.5 71.5 76.1 71.0 76.7 70.5 77.2 70.0 77.7 69.5 78.1 69.0 78.5 68.4 79.0 67.8 79.5 67.2 80.0 66.5 80.5 66.0 80.9 65.5 81.3 65.0 81.7 64.5 82.1 64.0 82.6 63.5 83.0 62.8 83.5 62.2 84.0 61.5 84.5 61.0 84.9 60.5 85.3 60.0 85.8 59.5 86.3 59.0 86.7 58.5 87.2 58.0 87.6 57.4 88.0 56.5 88.5 56.0 88.7 55.1 89.0 54.5 89.1 53.5 89.2 52.5 89.1 52.0 89.0 51.1 88.5 50.6 88.0 50.3 87.5 50.1 86.5 50.3 85.5 50.6 85.0 51.0 84.4 51.5 83.9 52.0 83.5 52.8 83.0 53.5 82.6 54.0 82.3 54.5 82.0 55.4 81.5 56.0 81.1 56.5 80.7 57.0 80.3 57.5 79.8 58.0 79.2 58.5 78.6 59.0 78.0 59.4 77.5 59.8 77.0 60.2 76.5 60.6 76.0 61.1 75.5 61.6 75.0 62.1 74.5 62.7 74.0 63.3 73.5 64.0 73.0 64.5 72.6 65.0 72.3 65.5 72.0 66.2 71.5 67.0 71.0 67.5 70.7 68.0 70.4 68.8 70.0 69.5 69.6 70.0 69.4 71.0 69.0M70.4 70.0 71.0 69.8 72.0 69.6 73.0 69.8 73.5 70.3 73.6 71.0 73.5 71.5 73.1 72.5 72.9 73.0 72.5 73.7 72.0 74.4 71.5 75.0 71.1 75.5 70.7 76.0 70.3 76.5 69.8 77.0 69.2 77.5 68.6 78.0 68.0 78.5 67.5 78.9 67.0 79.3 66.5 79.7 66.0 80.1 65.5 80.5 64.9 81.0 64.2 81.5 63.6 82.0 63.0 82.5 62.5 82.9 62.0 83.3 61.5 83.6 61.0 84.0 60.4 84.5 59.8 85.0 59.3 85.5 58.8 86.0 58.3 86.5 57.8 87.0 57.2 87.5 56.5 87.9 56.0 88.1 55.0 88.5 54.5 88.6 53.5 88.6 52.8 88.5 52.0 88.2 51.5 87.7 51.1 87.0 51.1 86.0 51.5 85.0 51.9 84.5 52.4 84.0 53.0 83.6 53.5 83.3 54.0 83.0 54.9 82.5 55.5 82.2 56.0 81.9 56.6 81.5 57.2 81.0 57.8 80.5 58.2 80.0 58.6 79.5 59.0 79.0 59.5 78.4 60.0 77.7 60.5 77.1 61.0 76.5 61.5 76.0 62.0 75.5 62.5 75.0 63.0 74.5 63.5 74.1 64.0 73.7 64.5 73.3 65.0 73.0 65.8 72.5 66.5 72.0 67.0 71.7 67.5 71.4 68.2 71.0 69.0 70.6 69.5 70.4 70.4 70.0M69.8 71.0 70.5 70.8 71.5 70.8 72.1 71.0 72.3 72.0 72.0 72.9 71.7 73.5 71.4 74.0 71.0 74.6 70.5 75.2 70.0 75.8 69.5 76.4 69.0 76.9 68.5 77.3 68.0 77.7 67.5 78.1 67.0 78.6 66.5 79.0 65.9 79.5 65.2 80.0 64.5 80.5 64.0 80.9 63.5 81.3 63.0 81.7 62.5 82.0 61.8 82.5 61.1 83.0 60.5 83.4 60.0 83.8 59.5 84.2 59.0 84.7 58.5 85.3 58.0 85.8 57.5 86.4 57.0 86.8 56.5 87.2 56.0 87.5 55.0 87.8 54.0 88.0 53.0 87.8 52.5 87.5 52.0 86.6 52.0 86.0 52.2 85.5 52.5 85.0 53.0 84.4 53.6 84.0 54.4 83.5 55.0 83.2 55.5 83.0 56.4 82.5 57.0 82.1 57.5 81.8 58.0 81.3 58.5 80.8 59.0 80.1 59.5 79.5 59.8 79.0 60.2 78.5 60.6 78.0 61.0 77.5 61.5 76.9 62.0 76.3 62.5 75.8 63.0 75.3 63.5 74.8 64.0 74.4 64.5 74.0 65.2 73.5 66.0 73.0 66.5 72.7 67.0 72.4 67.7 72.0 68.5 71.6 69.0 71.3 69.8 71.0M69.2 72.0 70.0 71.8 70.9 72.0 71.1 72.5 71.0 73.1 70.6 74.0 70.3 74.5 69.9 75.0 69.5 75.5 69.0 76.1 68.5 76.6 68.0 77.0 67.5 77.5 66.9 78.0 66.3 78.5 65.7 79.0 65.0 79.5 64.5 79.8 64.0 80.2 63.5 80.5 62.9 81.0 62.1 81.5 61.5 81.9 61.0 82.1 60.2 82.5 59.5 82.9 59.0 83.2 58.5 83.8 58.0 84.5 57.7 85.0 57.3 85.5 56.9 86.0 56.3 86.5 55.5 87.0 55.0 87.1 54.0 87.2 53.4 87.0 53.0 86.5 53.0 85.8 53.4 85.0 54.0 84.5 54.5 84.2 55.0 84.0 56.0 83.6 56.5 83.4 57.4 83.0 58.0 82.7 58.5 82.3 59.0 81.6 59.3 81.0 59.6 80.5 60.0 79.9 60.5 79.2 61.0 78.5 61.4 78.0 61.7 77.5 62.1 77.0 62.5 76.5 63.0 76.0 63.5 75.5 64.0 75.0 64.6 74.5 65.4 74.0 66.0 73.6 66.5 73.3 67.1 73.0 68.0 72.5 68.5 72.3 69.2 72.0M69.0 73.0 69.0 73.0 69.7 73.5 69.5 74.2 69.1 75.0 68.7 75.5 68.3 76.0 67.8 76.5 67.3 77.0 66.7 77.5 66.1 78.0 65.5 78.5 65.0 78.9 64.5 79.2 64.0 79.5 63.1 80.0 62.5 80.4 62.0 80.6 61.0 80.7 61.0 80.0 61.2 79.5 61.5 79.0 62.0 78.2 62.5 77.5 62.8 77.0 63.2 76.5 63.7 76.0 64.2 75.5 64.8 75.0 65.5 74.5 66.0 74.2 66.5 73.9 67.5 73.5 68.0 73.3 69.0 73.0M54.6 85.5 55.0 85.2 55.5 85.0 55.7 85.5 55.5 85.7 55.0 86.0 55.0 86.0 54.9 86.0 54.6 85.5M66.9 74.5 67.5 74.4 68.0 74.5 68.0 75.1 67.5 75.9 67.0 76.5 66.5 76.9 66.0 77.3 65.5 77.8 65.0 78.1 64.3 78.5 63.5 78.8 63.0 78.5 63.1 78.0 63.5 77.2 64.0 76.5 64.4 76.0 65.0 75.5 65.5 75.1 66.0 74.8 66.9 74.5" fill="none" stroke="#333" stroke-width="0.7"/></svg>
<path d="M0 0H97.7V99.2" fill="none" stroke="#8a8a8a" stroke-width="1.1"/>
<path d="M0 0V99.2H97.7" fill="none" stroke="#444" stroke-width="1.1"/>
<path d="M40.7 0V99.2M0 59.6H40.7" stroke="#555" stroke-width="1.1" fill="none"/>
<path d="M40.7 59.6H97.7" stroke="#777" stroke-width="1.1" fill="none"/>
<path d="M23 98.5H40" stroke="#222" stroke-width="1.3" fill="none"/>
<path d="M7.4 99.2v1.6M0 91.7h-1.4M11.7 99.2v1.6M0 87.4h-1.4M14.7 99.2v1.6M0 84.3h-1.4M17.1 99.2v1.6M0 81.9h-1.4M19.0 99.2v1.6M0 79.9h-1.4M20.6 99.2v1.6M0 78.2h-1.4M22.1 99.2v1.6M0 76.8h-1.4M23.3 99.2v1.6M0 75.5h-1.4M31.8 99.2v1.6M0 66.9h-1.4M36.1 99.2v1.6M0 62.6h-1.4M39.1 99.2v1.6M0 59.5h-1.4M41.5 99.2v1.6M0 57.1h-1.4M43.4 99.2v1.6M0 55.1h-1.4M45.1 99.2v1.6M0 53.4h-1.4M46.5 99.2v1.6M0 52.0h-1.4M47.7 99.2v1.6M0 50.7h-1.4M56.2 99.2v1.6M0 42.1h-1.4M60.5 99.2v1.6M0 37.8h-1.4M63.6 99.2v1.6M0 34.7h-1.4M65.9 99.2v1.6M0 32.3h-1.4M67.9 99.2v1.6M0 30.3h-1.4M69.5 99.2v1.6M0 28.6h-1.4M70.9 99.2v1.6M0 27.2h-1.4M72.2 99.2v1.6M0 25.9h-1.4M80.6 99.2v1.6M0 17.3h-1.4M84.9 99.2v1.6M0 13.0h-1.4M88.0 99.2v1.6M0 9.9h-1.4M90.3 99.2v1.6M0 7.5h-1.4M92.3 99.2v1.6M0 5.5h-1.4M93.9 99.2v1.6M0 3.8h-1.4M95.3 99.2v1.6M0 2.4h-1.4M96.6 99.2v1.6M0 1.1h-1.4" stroke="#666" stroke-width="0.6" fill="none"/>
<text class="p" x="96.40" y="11.1" font-size="10.7" font-weight="700" text-anchor="end" fill="#111">9%</text>
<text class="p" x="97.20" y="97.10" font-size="10.7" font-weight="700" text-anchor="end" fill="#111">44%</text>
<text class="p" x="0.15" y="96.80" font-size="10.7" font-weight="700" fill="#111">46%</text>
<text class="s" x="-5.6" y="116.0" font-size="10" font-weight="700">10<tspan dx="0.6" dy="-4.3" font-size="8.8">0</tspan></text>
<text class="s" x="-3.7" y="104.0" font-size="10" font-weight="700" text-anchor="end">10<tspan dx="0.6" dy="-4.3" font-size="8.8">0</tspan></text>
<text class="s" x="42.6" y="116.0" font-size="10" font-weight="700">10<tspan dx="0.6" dy="-4.3" font-size="8.8">2</tspan></text>
<text class="s" x="-3.7" y="54.4" font-size="10" font-weight="700" text-anchor="end">10<tspan dx="0.6" dy="-4.3" font-size="8.8">2</tspan></text>
<text class="s" x="89.1" y="116.0" font-size="10" font-weight="700">10<tspan dx="0.6" dy="-4.3" font-size="8.8">4</tspan></text>
<text class="s" x="-3.7" y="4.8" font-size="10" font-weight="700" text-anchor="end">10<tspan dx="0.6" dy="-4.3" font-size="8.8">4</tspan></text>
</g>
<g transform="translate(372.3 439.4)">
<svg x="0" y="0" width="98.0" height="99.2" overflow="hidden"><path d="M71.9 19.5 72.5 19.3 73.5 19.4 74.0 19.7 74.5 20.0 75.4 20.5 76.0 20.7 77.0 20.9 77.6 21.0 78.5 21.3 79.0 21.7 79.5 22.3 79.9 23.0 80.2 23.5 80.5 24.1 81.0 25.0 81.2 25.5 81.5 26.1 81.9 27.0 82.2 27.5 82.5 28.1 82.9 29.0 83.1 29.5 83.2 30.5 83.1 31.5 83.0 32.0 82.8 33.0 82.6 34.0 82.4 34.5 82.2 35.5 82.1 36.5 82.0 37.0 81.5 38.0 81.1 38.5 80.5 39.0 80.0 39.4 79.5 39.6 78.5 39.9 77.9 40.0 77.0 40.2 76.0 40.4 75.5 40.5 74.5 40.9 74.0 41.1 73.1 41.5 72.5 41.8 72.0 42.1 71.3 42.5 70.5 42.8 70.0 43.0 69.0 43.2 68.0 43.2 67.0 43.1 66.5 42.9 65.5 42.6 65.0 42.5 64.0 42.0 63.5 41.6 63.0 41.1 62.5 40.6 62.0 40.0 61.6 39.5 61.2 39.0 60.9 38.5 60.5 37.5 60.4 37.0 60.3 36.0 60.2 35.0 60.0 34.0 60.0 33.4 59.9 32.5 59.9 31.5 59.9 30.5 59.9 29.5 59.8 28.5 59.8 27.5 60.0 26.7 60.5 26.1 61.0 25.9 62.0 25.6 63.0 25.5 63.5 25.4 64.5 25.2 65.1 25.0 66.0 24.7 66.5 24.5 67.2 24.0 67.7 23.5 68.2 23.0 68.6 22.5 69.1 22.0 69.5 21.5 70.1 21.0 70.6 20.5 71.1 20.0 71.9 19.5M0.0 86.4 1.0 86.2 2.0 86.1 2.9 86.0 3.5 85.9 4.5 85.8 5.5 85.7 6.5 85.5 7.0 85.4 8.0 85.3 9.0 85.2 10.0 85.1 11.0 85.0 11.5 84.9 12.5 84.8 13.5 84.7 14.5 84.6 15.5 84.6 16.5 84.6 17.5 84.6 18.5 84.7 19.5 84.7 20.5 84.6 21.5 84.6 22.5 84.5 23.0 84.5 24.0 84.4 25.0 84.3 26.0 84.1 26.6 84.0 27.5 83.8 28.5 83.5 29.0 83.4 30.0 83.1 30.5 83.0 31.5 82.8 32.5 82.6 33.0 82.5 34.0 82.2 34.8 82.0 35.5 81.8 36.5 81.7 37.5 81.6 38.0 81.5 39.0 81.3 40.0 81.2 41.0 81.0 41.5 80.9 42.5 80.7 43.5 80.5 44.0 80.5 45.0 80.3 46.0 80.2 47.0 80.0 47.5 80.0 48.5 79.9 49.5 79.7 50.4 79.5 51.0 79.3 51.6 79.0 52.4 78.5 53.0 78.1 53.5 77.7 54.0 77.3 54.5 76.9 55.0 76.4 55.5 76.0 56.0 75.5 56.6 75.0 57.2 74.5 57.8 74.0 58.4 73.5 59.0 73.0 59.5 72.5 60.0 72.1 60.5 71.7 61.0 71.3 61.5 70.9 62.0 70.5 62.6 70.0 63.3 69.5 64.0 69.0 64.5 68.7 65.0 68.4 65.7 68.0 66.5 67.5 67.0 67.2 67.5 67.0 68.5 66.5 69.0 66.3 69.8 66.0 70.5 65.7 71.4 65.5 72.0 65.3 73.0 65.1 74.0 65.0 74.5 65.0 75.0 65.0 76.0 65.1 77.0 65.2 77.8 65.5 78.5 65.9 79.0 66.5 79.3 67.0 79.4 68.0 79.3 69.0 79.1 70.0 78.9 70.5 78.5 71.3 78.1 72.0 77.8 72.5 77.5 73.0 77.0 73.9 76.6 74.5 76.3 75.0 76.0 75.5 75.5 76.2 75.0 76.9 74.6 77.5 74.2 78.0 73.9 78.5 73.5 79.0 73.0 79.6 72.5 80.1 72.0 80.7 71.5 81.2 71.0 81.6 70.5 82.0 70.0 82.5 69.4 83.0 68.9 83.5 68.3 84.0 67.7 84.5 67.1 85.0 66.5 85.5 66.0 85.8 65.5 86.2 65.0 86.5 64.3 87.0 63.5 87.5 63.0 87.8 62.5 88.2 62.0 88.5 61.2 89.0 60.5 89.5 60.0 89.8 59.5 90.2 59.0 90.5 58.1 91.0 57.5 91.3 57.0 91.5 56.0 92.0 55.5 92.2 54.5 92.5 54.0 92.6 53.0 92.8 52.0 92.9 51.0 92.9 50.0 92.8 49.0 92.6 48.5 92.4 47.9 92.0 47.2 91.5 46.8 91.0 46.3 90.5 45.8 90.0 45.0 89.6 44.5 89.4 43.5 89.3 42.5 89.3 41.5 89.3 40.5 89.3 39.5 89.4 39.0 89.5 38.0 89.7 37.0 89.8 36.0 89.9 35.5 90.0 34.5 90.1 33.5 90.3 32.6 90.5 32.0 90.7 31.2 91.0 31.0 91.5 31.1 92.0 31.5 93.0 31.0 94.0 30.5 94.3 30.0 94.6 29.0 95.0 28.5 95.1 27.5 95.2 26.5 95.2 25.5 95.1 24.6 95.0 24.0 94.9 23.0 94.5 22.5 94.2 22.0 93.7 21.7 93.0 21.5 92.0 21.0 91.5 20.5 91.4 19.5 91.2 18.5 91.1 17.5 91.2 16.5 91.3 15.5 91.4 14.5 91.5 14.0 91.5 13.0 91.6 12.0 91.6 11.0 91.6 10.0 91.7 9.0 91.7 8.0 91.7 7.0 91.7 6.0 91.7 5.0 91.7 4.0 91.7 3.0 91.6 2.0 91.6 1.0 91.6 0.0 91.6M71.5 32.5 72.5 32.2 73.5 32.3 74.3 32.5 75.0 32.9 75.5 33.2 76.0 33.7 76.3 34.5 76.2 35.5 75.8 36.0 75.3 36.5 74.5 37.0 74.0 37.2 73.0 37.5 72.0 37.4 71.0 37.1 70.5 36.7 70.0 36.1 69.6 35.5 69.6 34.5 70.0 33.9 70.5 33.3 71.0 32.9 71.5 32.5M73.2 67.0 74.0 67.0 74.5 67.0 75.5 67.2 76.0 67.5 76.6 68.0 77.0 69.0 76.9 70.0 76.6 71.0 76.4 71.5 76.0 72.2 75.6 73.0 75.3 73.5 74.9 74.0 74.5 74.6 74.0 75.3 73.5 76.0 73.2 76.5 72.9 77.0 72.5 77.5 72.0 78.2 71.5 78.8 71.0 79.3 70.5 79.8 70.0 80.3 69.5 80.8 69.0 81.2 68.5 81.7 68.0 82.2 67.5 82.6 67.0 83.1 66.5 83.5 65.9 84.0 65.2 84.5 64.5 85.0 64.0 85.3 63.5 85.7 63.0 86.0 62.3 86.5 61.6 87.0 61.0 87.4 60.5 87.8 60.0 88.2 59.5 88.6 59.0 89.0 58.4 89.5 57.6 90.0 57.0 90.4 56.5 90.6 55.5 91.0 55.0 91.2 54.0 91.5 53.5 91.6 52.5 91.7 51.5 91.7 50.5 91.5 50.0 91.4 49.3 91.0 48.6 90.5 48.2 90.0 47.9 89.5 47.5 88.8 47.0 88.1 46.5 87.7 46.0 87.4 45.0 87.2 44.0 87.2 43.0 87.2 42.0 87.1 41.0 87.1 40.0 87.2 39.0 87.4 38.5 87.5 37.5 87.8 36.5 88.0 36.0 88.0 35.0 88.1 34.0 88.1 33.0 88.1 32.0 88.1 31.0 88.1 30.0 88.1 29.0 88.1 28.3 88.0 27.5 87.8 26.7 87.5 27.0 86.7 27.5 86.4 28.1 86.0 29.0 85.6 29.5 85.4 30.5 85.1 31.0 85.0 32.0 84.7 32.5 84.5 33.5 84.2 34.0 84.0 35.0 83.8 36.0 83.6 37.0 83.6 38.0 83.7 39.0 83.6 39.8 83.5 40.5 83.4 41.5 83.1 42.1 83.0 43.0 82.8 44.0 82.6 44.5 82.5 45.5 82.3 46.5 82.2 47.5 82.1 48.1 82.0 49.0 81.8 50.0 81.6 50.5 81.4 51.4 81.0 52.0 80.7 52.5 80.4 53.1 80.0 53.8 79.5 54.4 79.0 55.0 78.5 55.5 78.1 56.0 77.6 56.5 77.1 57.0 76.6 57.5 76.1 58.0 75.7 58.5 75.3 59.0 74.9 59.5 74.5 60.1 74.0 60.7 73.5 61.3 73.0 61.9 72.5 62.5 72.0 63.0 71.6 63.5 71.2 64.0 70.9 64.5 70.5 65.3 70.0 66.0 69.6 66.5 69.3 67.0 69.0 68.0 68.5 68.5 68.2 69.1 68.0 70.0 67.7 70.6 67.5 71.5 67.3 72.5 67.1 73.2 67.0M8.1 88.0 9.0 87.9 10.0 87.8 11.0 87.8 12.0 87.8 13.0 87.9 13.1 88.5 12.5 88.7 11.5 88.9 10.5 89.0 10.0 89.0 9.2 89.0 8.5 88.9 7.5 88.6 7.5 88.4 8.1 88.0M71.4 68.5 72.0 68.4 73.0 68.3 74.0 68.5 74.5 68.7 75.0 69.3 75.2 70.0 75.1 71.0 75.0 71.5 74.5 72.5 74.2 73.0 73.9 73.5 73.5 74.0 73.0 74.8 72.5 75.5 72.2 76.0 71.9 76.5 71.5 77.0 71.0 77.7 70.5 78.3 70.0 78.8 69.5 79.3 69.0 79.8 68.5 80.2 68.0 80.7 67.5 81.2 67.0 81.6 66.5 82.1 66.0 82.5 65.4 83.0 64.7 83.5 64.1 84.0 63.5 84.4 63.0 84.8 62.5 85.1 61.9 85.5 61.3 86.0 60.6 86.5 60.0 87.0 59.5 87.4 59.0 87.9 58.5 88.3 58.0 88.8 57.5 89.1 57.0 89.5 56.0 90.0 55.5 90.3 54.8 90.5 54.0 90.7 53.0 90.9 52.0 90.9 51.0 90.7 50.5 90.5 49.7 90.0 49.2 89.5 48.9 89.0 48.5 88.0 48.4 87.5 48.3 86.5 48.3 85.5 48.5 85.0 49.0 84.4 49.5 83.9 50.0 83.4 50.6 83.0 51.4 82.5 52.0 82.2 52.5 81.9 53.1 81.5 53.8 81.0 54.4 80.5 55.0 80.0 55.5 79.6 56.0 79.1 56.5 78.6 57.0 78.1 57.5 77.6 58.0 77.1 58.5 76.7 59.0 76.3 59.5 75.9 60.0 75.5 60.6 75.0 61.2 74.5 61.8 74.0 62.4 73.5 63.0 73.0 63.5 72.6 64.0 72.2 64.5 71.9 65.0 71.5 65.7 71.0 66.5 70.5 67.0 70.2 67.5 69.9 68.4 69.5 69.0 69.2 69.6 69.0 70.5 68.7 71.4 68.5M69.7 70.0 70.5 69.8 71.5 69.6 72.5 69.6 73.3 70.0 73.7 70.5 73.6 71.5 73.5 72.0 73.0 72.9 72.7 73.5 72.4 74.0 72.0 74.7 71.5 75.5 71.2 76.0 70.8 76.5 70.4 77.0 70.0 77.5 69.5 78.1 69.0 78.6 68.5 79.1 68.0 79.6 67.5 80.0 67.0 80.5 66.4 81.0 65.8 81.5 65.3 82.0 64.6 82.5 64.0 83.0 63.5 83.4 63.0 83.7 62.5 84.1 61.9 84.5 61.2 85.0 60.5 85.5 60.0 85.9 59.5 86.4 59.0 86.8 58.5 87.3 58.0 87.8 57.5 88.2 57.0 88.6 56.5 89.0 55.5 89.5 55.0 89.7 54.0 90.0 53.5 90.1 52.5 90.1 51.6 90.0 51.0 89.8 50.5 89.4 50.0 88.8 49.7 88.0 49.6 87.0 49.8 86.0 50.1 85.5 50.5 84.9 51.0 84.3 51.5 83.8 52.0 83.4 52.6 83.0 53.3 82.5 54.0 82.0 54.5 81.6 55.0 81.3 55.5 80.8 56.0 80.4 56.5 79.9 57.0 79.4 57.5 78.9 58.0 78.4 58.5 77.9 59.0 77.5 59.5 77.0 60.1 76.5 60.7 76.0 61.3 75.5 61.9 75.0 62.5 74.5 63.0 74.1 63.5 73.7 64.0 73.3 64.5 73.0 65.1 72.5 65.9 72.0 66.5 71.6 67.0 71.3 67.5 71.0 68.5 70.5 69.0 70.3 69.7 70.0M69.2 71.0 70.0 70.8 71.0 70.6 72.0 70.9 72.3 71.5 72.2 72.5 72.0 73.0 71.5 74.0 71.3 74.5 71.0 75.0 70.5 75.8 70.0 76.5 69.7 77.0 69.2 77.5 68.8 78.0 68.3 78.5 67.8 79.0 67.2 79.5 66.7 80.0 66.1 80.5 65.5 81.0 65.0 81.4 64.5 81.8 64.0 82.2 63.5 82.6 63.0 83.0 62.3 83.5 61.5 84.0 61.0 84.4 60.5 84.7 60.0 85.1 59.5 85.5 59.0 86.0 58.5 86.5 58.0 87.0 57.5 87.5 56.9 88.0 56.2 88.5 55.5 88.9 55.0 89.1 54.0 89.4 53.1 89.5 52.9 89.5 52.0 89.4 51.3 89.0 50.8 88.5 50.5 87.7 50.5 87.0 50.6 86.5 51.0 85.6 51.5 85.0 51.9 84.5 52.5 84.0 53.0 83.6 53.5 83.2 54.0 82.9 54.5 82.5 55.2 82.0 55.8 81.5 56.4 81.0 56.9 80.5 57.4 80.0 57.9 79.5 58.3 79.0 58.9 78.5 59.4 78.0 60.0 77.5 60.5 77.0 61.0 76.6 61.5 76.1 62.0 75.7 62.5 75.2 63.0 74.8 63.5 74.5 64.1 74.0 64.8 73.5 65.5 73.0 66.0 72.7 66.5 72.4 67.1 72.0 68.0 71.5 68.5 71.3 69.2 71.0M68.8 72.0 69.5 71.8 70.5 71.9 70.9 72.5 70.8 73.5 70.5 74.5 70.2 75.0 70.0 75.5 69.5 76.2 69.0 76.9 68.5 77.5 68.0 78.0 67.5 78.5 67.0 79.0 66.5 79.4 66.0 79.8 65.5 80.3 65.0 80.7 64.5 81.1 64.0 81.5 63.3 82.0 62.6 82.5 62.0 83.0 61.5 83.3 61.0 83.6 60.4 84.0 59.7 84.5 59.1 85.0 58.5 85.5 58.0 86.0 57.6 86.5 57.1 87.0 56.6 87.5 56.0 87.9 55.5 88.2 54.9 88.5 54.0 88.7 53.0 88.8 52.1 88.5 51.6 88.0 51.4 87.5 51.5 86.6 51.7 86.0 52.1 85.5 52.5 85.0 53.0 84.5 53.6 84.0 54.3 83.5 55.0 83.0 55.5 82.6 56.0 82.3 56.5 81.8 57.0 81.4 57.5 80.9 58.0 80.4 58.5 79.8 59.0 79.3 59.5 78.8 60.0 78.3 60.5 77.9 61.0 77.4 61.5 76.9 62.0 76.4 62.5 76.0 63.1 75.5 63.7 75.0 64.4 74.5 65.0 74.1 65.5 73.7 66.0 73.4 66.7 73.0 67.5 72.5 68.0 72.3 68.8 72.0M68.2 73.0 69.0 72.9 69.5 73.0 69.8 74.0 69.5 75.0 69.2 75.5 68.9 76.0 68.5 76.6 68.0 77.3 67.5 77.8 67.0 78.3 66.5 78.8 66.0 79.2 65.5 79.6 65.0 80.0 64.4 80.5 63.7 81.0 63.1 81.5 62.5 81.9 62.0 82.3 61.5 82.6 60.8 83.0 60.0 83.5 59.5 83.8 59.0 84.2 58.5 84.6 58.0 85.1 57.5 85.6 57.0 86.2 56.5 86.7 56.0 87.2 55.5 87.5 54.5 88.0 54.0 88.0 53.3 88.0 52.5 87.5 52.4 87.0 52.5 86.3 53.0 85.5 53.5 85.0 54.0 84.5 54.5 84.2 55.0 83.8 55.5 83.5 56.2 83.0 56.8 82.5 57.4 82.0 57.8 81.5 58.3 81.0 58.7 80.5 59.2 80.0 59.7 79.5 60.2 79.0 60.7 78.5 61.1 78.0 61.6 77.5 62.1 77.0 62.6 76.5 63.2 76.0 63.8 75.5 64.5 75.0 65.0 74.7 65.5 74.4 66.1 74.0 67.0 73.5 67.5 73.3 68.2 73.0M67.8 74.0 68.2 74.0 68.7 74.5 68.5 75.4 68.2 76.0 67.9 76.5 67.5 77.1 67.0 77.6 66.5 78.1 66.0 78.6 65.5 79.0 64.9 79.5 64.2 80.0 63.5 80.5 63.0 80.9 62.5 81.2 62.0 81.6 61.3 82.0 60.5 82.4 60.0 82.6 59.1 83.0 58.5 83.2 58.0 83.0 58.3 82.5 58.6 82.0 59.0 81.4 59.5 80.7 60.0 80.1 60.5 79.6 61.0 79.0 61.4 78.5 61.8 78.0 62.3 77.5 62.8 77.0 63.3 76.5 63.9 76.0 64.5 75.6 65.0 75.3 65.5 75.0 66.4 74.5 67.0 74.2 67.8 74.0M56.5 84.0 56.5 84.0 57.0 83.8 57.4 84.0 57.2 84.5 57.0 84.8 56.9 85.0 56.6 85.5 56.5 85.6 56.2 86.0 56.0 86.2 55.7 86.5 55.5 86.6 55.0 86.9 54.8 87.0 54.5 87.1 54.0 87.1 53.9 87.0 53.5 86.5 53.7 86.0 54.0 85.6 54.1 85.5 54.5 85.1 54.7 85.0 55.0 84.8 55.4 84.5 55.5 84.5 56.0 84.2 56.5 84.0M65.8 75.5 66.5 75.3 67.3 75.5 67.1 76.5 66.8 77.0 66.4 77.5 65.9 78.0 65.3 78.5 64.7 79.0 64.0 79.5 63.5 79.8 63.0 80.1 62.2 80.5 61.5 80.7 61.3 80.0 61.6 79.5 62.0 78.8 62.5 78.1 63.0 77.5 63.5 77.0 64.0 76.6 64.5 76.2 65.0 75.9 65.8 75.5" fill="none" stroke="#333" stroke-width="0.7"/></svg>
<path d="M0 0H98.0V99.2" fill="none" stroke="#8a8a8a" stroke-width="1.1"/>
<path d="M0 0V99.2H98.0" fill="none" stroke="#444" stroke-width="1.1"/>
<path d="M40.85 0V99.2M0 59.5H40.85" stroke="#555" stroke-width="1.1" fill="none"/>
<path d="M40.85 59.5H98.0" stroke="#777" stroke-width="1.1" fill="none"/>
<path d="M22.7 98.5H40" stroke="#222" stroke-width="1.3" fill="none"/>
<path d="M7.4 99.2v1.6M0 91.7h-1.4M11.7 99.2v1.6M0 87.4h-1.4M14.8 99.2v1.6M0 84.3h-1.4M17.1 99.2v1.6M0 81.9h-1.4M19.1 99.2v1.6M0 79.9h-1.4M20.7 99.2v1.6M0 78.2h-1.4M22.1 99.2v1.6M0 76.8h-1.4M23.4 99.2v1.6M0 75.5h-1.4M31.9 99.2v1.6M0 66.9h-1.4M36.2 99.2v1.6M0 62.6h-1.4M39.3 99.2v1.6M0 59.5h-1.4M41.6 99.2v1.6M0 57.1h-1.4M43.6 99.2v1.6M0 55.1h-1.4M45.2 99.2v1.6M0 53.4h-1.4M46.6 99.2v1.6M0 52.0h-1.4M47.9 99.2v1.6M0 50.7h-1.4M56.4 99.2v1.6M0 42.1h-1.4M60.7 99.2v1.6M0 37.8h-1.4M63.8 99.2v1.6M0 34.7h-1.4M66.1 99.2v1.6M0 32.3h-1.4M68.1 99.2v1.6M0 30.3h-1.4M69.7 99.2v1.6M0 28.6h-1.4M71.1 99.2v1.6M0 27.2h-1.4M72.4 99.2v1.6M0 25.9h-1.4M80.9 99.2v1.6M0 17.3h-1.4M85.2 99.2v1.6M0 13.0h-1.4M88.3 99.2v1.6M0 9.9h-1.4M90.6 99.2v1.6M0 7.5h-1.4M92.6 99.2v1.6M0 5.5h-1.4M94.2 99.2v1.6M0 3.8h-1.4M95.6 99.2v1.6M0 2.4h-1.4M96.9 99.2v1.6M0 1.1h-1.4" stroke="#666" stroke-width="0.6" fill="none"/>
<text class="p" x="96.10" y="9.4" font-size="10.7" font-weight="700" text-anchor="end" fill="#111">12%</text>
<text class="p" x="97.20" y="97.10" font-size="10.7" font-weight="700" text-anchor="end" fill="#111">44%</text>
<text class="p" x="1.25" y="97.10" font-size="10.7" font-weight="700" fill="#111">44%</text>
<text class="s" x="-5.6" y="113.0" font-size="10" font-weight="700">10<tspan dx="0.6" dy="-2.7" font-size="7.8">0</tspan></text>
<text class="s" x="-3.7" y="104.0" font-size="10" font-weight="700" text-anchor="end">10<tspan dx="0.6" dy="-4.3" font-size="8.8">0</tspan></text>
<text class="s" x="42.8" y="113.0" font-size="10" font-weight="700">10<tspan dx="0.6" dy="-2.7" font-size="7.8">2</tspan></text>
<text class="s" x="-3.7" y="54.4" font-size="10" font-weight="700" text-anchor="end">10<tspan dx="0.6" dy="-4.3" font-size="8.8">2</tspan></text>
<text class="s" x="89.4" y="113.0" font-size="10" font-weight="700">10<tspan dx="0.6" dy="-2.7" font-size="7.8">4</tspan></text>
<text class="s" x="-3.7" y="4.8" font-size="10" font-weight="700" text-anchor="end">10<tspan dx="0.6" dy="-4.3" font-size="8.8">4</tspan></text>
</g>
<g transform="translate(50.85 592.9)">
<svg x="0" y="0" width="97.75" height="99.4" overflow="hidden"><path d="M71.7 27.5 72.5 27.4 73.5 27.4 74.0 27.5 75.0 27.8 75.5 28.0 76.5 28.5 77.0 28.8 77.5 29.2 78.0 29.7 78.5 30.5 78.8 31.0 79.0 31.6 79.2 32.5 79.3 33.5 79.3 34.5 79.3 35.5 79.3 36.5 79.2 37.5 79.1 38.5 79.0 39.5 78.9 40.0 78.7 41.0 78.5 41.5 78.1 42.5 77.9 43.0 77.5 44.0 77.3 44.5 77.0 45.3 76.7 46.0 76.4 46.5 76.0 47.5 75.8 48.0 75.5 48.6 75.1 49.5 74.8 50.0 74.5 50.5 74.0 51.2 73.5 51.9 73.1 52.5 72.7 53.0 72.3 53.5 71.9 54.0 71.5 54.6 71.0 55.3 70.5 55.9 70.0 56.5 69.6 57.0 69.2 57.5 68.7 58.0 68.2 58.5 67.6 59.0 67.0 59.4 66.5 59.8 66.0 60.1 65.4 60.5 64.5 61.0 64.0 61.2 63.2 61.5 62.5 61.8 61.8 62.0 61.0 62.3 60.5 62.5 59.5 63.0 59.0 63.2 58.4 63.5 57.5 64.0 57.0 64.4 56.5 64.8 56.0 65.3 55.5 66.0 55.1 66.5 54.7 67.0 54.3 67.5 53.9 68.0 53.4 68.5 52.9 69.0 52.5 69.5 52.0 70.0 51.5 70.6 51.0 71.1 50.5 71.5 50.0 72.0 49.4 72.5 48.8 73.0 48.1 73.5 47.5 74.0 47.0 74.3 46.5 74.6 45.9 75.0 45.2 75.5 44.5 76.0 44.0 76.3 43.5 76.7 43.0 77.0 42.2 77.5 41.5 77.9 41.0 78.3 40.5 78.6 39.8 79.0 39.0 79.5 38.5 79.8 38.0 80.0 37.1 80.5 36.5 80.8 36.0 81.1 35.4 81.5 34.8 82.0 34.2 82.5 33.5 83.0 33.0 83.4 32.5 83.7 31.9 84.0 31.0 84.4 30.5 84.7 29.8 85.0 29.0 85.4 28.5 85.6 27.6 86.0 27.0 86.3 26.5 86.5 25.5 86.9 25.0 87.1 24.0 87.5 23.5 87.6 22.5 87.9 22.0 88.0 21.0 88.2 20.0 88.3 19.0 88.4 18.0 88.5 17.5 88.5 16.5 88.6 15.5 88.6 14.5 88.6 13.5 88.5 13.0 88.5 12.0 88.4 11.0 88.3 10.0 88.1 9.4 88.0 8.5 87.8 7.8 87.5 7.0 87.2 6.5 87.0 5.5 86.5 5.0 86.2 4.5 85.8 4.0 85.2 3.5 84.6 3.1 84.0 2.7 83.5 2.3 83.0 2.0 82.5 1.5 81.8 1.1 81.0 0.9 80.5 0.6 79.5 0.5 79.0 0.3 78.0 0.3 77.0 0.5 76.1 0.7 75.5 1.0 74.9 1.5 74.0 1.8 73.5 2.1 73.0 2.5 72.4 3.0 71.7 3.5 71.1 4.0 70.6 4.5 70.1 5.0 69.5 5.5 69.0 5.9 68.5 6.3 68.0 6.8 67.5 7.5 67.0 8.0 66.6 8.5 66.3 9.0 66.0 9.8 65.5 10.5 65.1 11.0 64.8 11.5 64.5 12.4 64.0 13.0 63.7 13.5 63.4 14.4 63.0 15.0 62.7 15.5 62.4 16.1 62.0 17.0 61.5 17.5 61.2 18.0 61.0 18.9 60.5 19.5 60.2 20.0 59.9 21.0 59.5 21.5 59.3 22.5 59.2 23.5 59.0 24.0 59.0 25.0 58.9 26.0 58.8 27.0 58.7 28.0 58.6 29.0 58.6 30.0 58.6 31.0 58.5 31.6 58.5 32.5 58.4 33.5 58.3 34.5 58.2 35.5 58.1 36.5 58.1 37.5 58.0 38.0 57.9 39.0 57.7 40.0 57.5 40.5 57.4 41.5 57.1 42.0 57.0 43.0 56.5 43.5 56.2 44.0 55.9 44.6 55.5 45.2 55.0 45.7 54.5 46.2 54.0 46.7 53.5 47.2 53.0 47.6 52.5 48.0 52.0 48.5 51.5 49.0 50.9 49.5 50.3 50.0 49.8 50.5 49.3 51.0 48.8 51.5 48.3 52.0 47.8 52.5 47.3 53.0 46.8 53.5 46.4 54.0 45.8 54.5 45.3 55.0 44.7 55.5 44.2 56.0 43.6 56.5 43.0 56.9 42.5 57.3 42.0 57.7 41.5 58.0 41.0 58.5 40.2 58.9 39.5 59.2 39.0 59.5 38.4 60.0 37.6 60.3 37.0 60.7 36.5 61.0 36.0 61.5 35.2 61.9 34.5 62.3 34.0 62.7 33.5 63.1 33.0 63.5 32.5 64.0 32.0 64.6 31.5 65.2 31.0 65.8 30.5 66.5 30.0 67.0 29.7 67.5 29.4 68.3 29.0 69.0 28.6 69.5 28.4 70.3 28.0 71.0 27.7 71.7 27.5M71.9 30.5 72.5 30.5 73.0 30.5 74.0 30.8 74.6 31.0 75.5 31.5 76.0 31.8 76.5 32.4 76.7 33.0 76.9 34.0 76.9 35.0 77.0 36.0 77.0 36.5 77.1 37.5 77.1 38.5 77.0 39.5 76.9 40.0 76.6 41.0 76.4 41.5 76.1 42.5 75.9 43.0 75.6 44.0 75.4 44.5 75.0 45.4 74.8 46.0 74.5 46.6 74.2 47.5 73.9 48.0 73.5 48.9 73.1 49.5 72.8 50.0 72.4 50.5 72.0 51.1 71.5 51.7 71.0 52.3 70.5 52.9 70.1 53.5 69.7 54.0 69.2 54.5 68.8 55.0 68.3 55.5 67.7 56.0 67.2 56.5 66.6 57.0 66.0 57.5 65.5 57.8 65.0 58.2 64.5 58.5 63.7 59.0 63.0 59.3 62.5 59.5 61.5 59.8 60.5 60.0 60.0 60.1 59.0 60.3 58.0 60.5 57.5 60.6 56.6 61.0 56.0 61.4 55.5 61.8 55.0 62.3 54.5 62.9 54.1 63.5 53.8 64.0 53.5 64.5 53.0 65.3 52.5 66.0 52.1 66.5 51.7 67.0 51.2 67.5 50.8 68.0 50.4 68.5 50.0 69.0 49.5 69.6 49.0 70.2 48.5 70.6 48.0 71.1 47.5 71.5 46.9 72.0 46.2 72.5 45.5 73.0 45.0 73.3 44.5 73.6 43.8 74.0 43.0 74.5 42.5 74.9 42.0 75.2 41.5 75.5 40.5 76.0 40.0 76.3 39.5 76.5 38.7 77.0 38.0 77.5 37.5 77.8 37.0 78.1 36.0 78.5 35.5 78.7 34.9 79.0 34.0 79.5 33.5 79.8 33.0 80.1 32.4 80.5 31.7 81.0 31.0 81.4 30.5 81.7 30.0 82.0 29.0 82.5 28.5 82.8 28.0 83.1 27.3 83.5 26.5 83.9 26.0 84.1 25.2 84.5 24.5 84.8 24.0 85.0 23.0 85.4 22.5 85.6 21.5 85.9 20.9 86.0 20.0 86.2 19.0 86.2 18.0 86.3 17.0 86.4 16.0 86.5 15.0 86.4 14.0 86.3 13.0 86.2 12.0 86.0 11.5 85.9 10.5 85.7 10.0 85.5 9.1 85.0 8.5 84.7 8.0 84.3 7.5 83.9 7.0 83.5 6.5 82.9 6.0 82.4 5.5 81.8 5.0 81.0 4.7 80.5 4.5 80.0 4.2 79.0 4.0 78.0 4.0 77.5 4.0 76.5 4.1 76.0 4.5 75.0 4.7 74.5 5.0 74.0 5.5 73.1 5.9 72.5 6.3 72.0 6.7 71.5 7.2 71.0 7.7 70.5 8.2 70.0 8.7 69.5 9.4 69.0 10.0 68.6 10.5 68.2 11.0 67.9 11.5 67.5 12.2 67.0 12.9 66.5 13.5 66.1 14.0 65.9 14.7 65.5 15.5 65.0 16.0 64.8 16.5 64.5 17.4 64.0 18.0 63.7 18.5 63.4 19.3 63.0 20.0 62.6 20.5 62.3 21.2 62.0 22.0 61.7 22.6 61.5 23.5 61.3 24.5 61.2 25.5 61.1 26.5 61.1 27.5 61.1 28.5 61.1 29.5 61.0 30.5 61.0 31.5 61.1 32.5 61.0 33.0 61.0 34.0 60.8 35.0 60.7 36.0 60.5 36.5 60.4 37.5 60.2 38.5 60.0 39.0 60.0 40.0 59.8 41.0 59.7 42.0 59.5 42.5 59.4 43.4 59.0 44.0 58.7 44.5 58.5 45.5 58.1 46.0 57.8 46.7 57.5 47.5 57.0 48.0 56.5 48.5 56.0 48.8 55.5 49.2 55.0 49.5 54.5 50.0 53.8 50.5 53.0 50.8 52.5 51.1 52.0 51.5 51.3 52.0 50.6 52.5 50.1 53.0 49.6 53.5 49.1 54.0 48.7 54.5 48.2 55.0 47.7 55.5 47.2 56.0 46.6 56.5 46.0 56.9 45.5 57.3 45.0 57.7 44.5 58.1 44.0 58.5 43.5 59.0 42.8 59.4 42.0 59.7 41.5 60.0 40.9 60.5 40.0 60.8 39.5 61.1 39.0 61.5 38.4 62.0 37.7 62.4 37.0 62.7 36.5 63.1 36.0 63.5 35.3 64.0 34.7 64.5 34.1 65.0 33.6 65.5 33.2 66.0 32.8 66.6 32.5 67.5 32.0 68.0 31.7 68.5 31.5 69.5 31.1 70.0 30.9 71.0 30.6 71.9 30.5M70.8 33.0 71.5 33.0 72.0 33.1 73.0 33.4 73.5 33.7 74.0 34.1 74.5 34.7 74.9 35.5 75.0 36.0 75.3 37.0 75.5 38.0 75.5 38.5 75.5 39.2 75.4 40.0 75.1 41.0 74.9 41.5 74.6 42.5 74.4 43.0 74.0 44.0 73.8 44.5 73.5 45.5 73.3 46.0 73.0 46.9 72.8 47.5 72.5 48.0 72.0 48.9 71.6 49.5 71.2 50.0 70.8 50.5 70.4 51.0 70.0 51.5 69.5 52.0 69.0 52.6 68.5 53.1 68.0 53.6 67.5 54.1 67.0 54.5 66.3 55.0 65.5 55.5 65.0 55.9 64.5 56.2 64.0 56.6 63.4 57.0 62.5 57.5 62.0 57.7 61.0 57.9 60.5 58.0 59.5 58.1 58.5 58.1 57.5 58.0 56.5 58.1 55.5 58.3 55.0 58.5 54.2 59.0 53.5 59.5 53.0 60.0 52.5 60.5 52.1 61.0 51.9 61.5 51.6 62.5 51.4 63.0 51.1 64.0 50.9 64.5 50.5 65.4 50.2 66.0 49.8 66.5 49.5 67.0 49.0 67.6 48.5 68.2 48.0 68.8 47.5 69.3 47.0 69.7 46.5 70.1 46.0 70.5 45.4 71.0 44.8 71.5 44.1 72.0 43.5 72.4 43.0 72.7 42.5 73.0 41.7 73.5 41.0 73.9 40.5 74.1 39.5 74.4 39.0 74.6 38.1 75.0 37.5 75.4 37.0 75.8 36.5 76.2 36.0 76.5 35.1 77.0 34.5 77.3 34.0 77.6 33.3 78.0 32.5 78.5 32.0 78.8 31.5 79.2 31.0 79.5 30.3 80.0 29.5 80.4 29.0 80.7 28.3 81.0 27.5 81.5 27.0 81.8 26.5 82.1 25.7 82.5 25.0 82.9 24.5 83.1 23.5 83.5 23.0 83.7 22.3 84.0 21.5 84.3 20.8 84.5 20.0 84.7 19.0 84.8 18.0 84.9 17.4 85.0 16.5 85.1 15.5 85.0 15.0 85.0 14.0 84.8 13.0 84.6 12.5 84.4 11.5 84.1 11.0 83.9 10.3 83.5 9.5 83.1 9.0 82.7 8.5 82.3 8.0 81.8 7.5 81.1 7.2 80.5 7.0 80.0 6.8 79.0 6.7 78.0 6.7 77.0 6.8 76.0 7.0 75.4 7.3 74.5 7.5 73.9 8.0 73.0 8.3 72.5 8.7 72.0 9.2 71.5 9.7 71.0 10.3 70.5 10.9 70.0 11.5 69.5 12.0 69.2 12.5 68.8 13.0 68.4 13.6 68.0 14.4 67.5 15.0 67.1 15.5 66.9 16.2 66.5 17.0 66.1 17.5 65.9 18.3 65.5 19.0 65.2 19.5 64.9 20.4 64.5 21.0 64.2 21.6 64.0 22.5 63.7 23.0 63.5 24.0 63.3 25.0 63.1 26.0 63.0 27.0 63.0 27.5 63.0 28.5 62.9 29.5 62.8 30.5 62.8 31.5 62.9 32.5 62.9 33.5 62.8 34.5 62.6 35.0 62.5 36.0 62.3 37.0 62.1 37.6 62.0 38.5 61.8 39.5 61.7 40.5 61.7 41.5 61.6 42.1 61.5 43.0 61.3 43.7 61.0 44.5 60.7 45.0 60.5 46.0 60.3 47.0 60.2 48.0 60.2 48.9 60.0 49.5 59.7 50.0 59.0 50.2 58.5 50.5 57.7 50.8 57.0 51.0 56.5 51.5 55.5 51.7 55.0 52.0 54.4 52.4 53.5 52.8 53.0 53.1 52.5 53.5 52.0 54.0 51.4 54.5 50.9 55.0 50.3 55.5 49.7 56.0 49.1 56.5 48.6 57.0 48.1 57.5 47.6 58.0 47.0 58.3 46.5 58.7 46.0 59.1 45.5 59.5 44.9 60.0 44.2 60.4 43.5 60.6 43.0 61.0 42.0 61.2 41.5 61.5 40.9 62.0 40.0 62.3 39.5 62.6 39.0 63.0 38.5 63.5 37.8 64.0 37.1 64.4 36.5 64.8 36.0 65.3 35.5 65.8 35.0 66.5 34.5 67.0 34.2 67.5 34.0 68.5 33.6 69.0 33.4 70.0 33.1 70.8 33.0M69.0 35.5 69.5 35.4 70.5 35.3 71.5 35.5 72.0 35.6 72.5 36.0 73.0 36.5 73.5 37.5 73.6 38.0 73.8 39.0 73.7 40.0 73.5 41.0 73.4 41.5 73.0 42.5 72.8 43.0 72.5 43.9 72.3 44.5 72.0 45.5 71.9 46.0 71.5 47.0 71.2 47.5 70.9 48.0 70.5 48.7 70.0 49.3 69.5 49.9 69.0 50.4 68.5 51.0 68.0 51.5 67.6 52.0 67.0 52.5 66.5 52.9 66.0 53.2 65.5 53.5 64.5 54.0 64.0 54.2 63.3 54.5 62.5 54.9 62.0 55.1 61.0 55.4 60.0 55.4 59.0 55.2 58.5 54.9 58.0 54.5 57.5 53.9 57.1 53.0 57.1 52.0 57.4 51.0 57.7 50.5 58.0 50.0 58.5 49.4 59.0 48.8 59.5 48.1 59.9 47.5 60.3 47.0 60.6 46.5 61.0 45.9 61.5 45.1 61.8 44.5 62.0 44.0 62.4 43.0 62.5 42.5 62.8 41.5 63.0 41.0 63.5 40.2 64.0 39.5 64.3 39.0 64.7 38.5 65.2 38.0 65.6 37.5 66.1 37.0 66.7 36.5 67.5 36.0 68.0 35.8 69.0 35.5M44.2 63.0 45.0 62.9 46.0 62.9 46.6 63.0 47.4 63.5 47.8 64.0 48.0 64.5 48.0 65.2 47.7 66.0 47.5 66.5 47.0 67.1 46.5 67.6 46.0 68.0 45.4 68.5 44.7 69.0 44.2 69.5 43.7 70.0 43.2 70.5 42.6 71.0 42.0 71.4 41.5 71.7 40.9 72.0 40.0 72.3 39.4 72.5 38.5 72.7 37.8 73.0 37.0 73.4 36.5 73.7 36.0 74.1 35.5 74.5 34.9 75.0 34.3 75.5 33.6 76.0 33.0 76.4 32.5 76.8 32.0 77.2 31.5 77.6 30.9 78.0 30.2 78.5 29.5 78.9 29.0 79.2 28.3 79.5 27.5 79.9 27.0 80.2 26.5 80.5 25.7 81.0 25.0 81.4 24.5 81.6 23.7 82.0 23.0 82.3 22.5 82.5 21.5 82.9 21.0 83.1 20.0 83.4 19.4 83.5 18.5 83.6 17.5 83.8 16.5 83.8 15.5 83.8 14.5 83.6 14.0 83.4 13.0 83.1 12.5 82.9 11.6 82.5 11.0 82.2 10.5 81.9 10.0 81.5 9.5 81.0 9.0 80.3 8.8 79.5 8.7 78.5 8.8 77.5 8.9 76.5 9.0 76.0 9.2 75.0 9.5 74.2 9.9 73.5 10.2 73.0 10.6 72.5 11.0 72.0 11.5 71.5 12.0 71.0 12.5 70.5 13.1 70.0 13.8 69.5 14.5 69.0 15.0 68.7 15.5 68.4 16.3 68.0 17.0 67.7 17.5 67.5 18.5 67.1 19.0 66.9 20.0 66.5 20.5 66.3 21.2 66.0 22.0 65.7 22.5 65.5 23.5 65.2 24.5 65.1 25.0 65.0 26.0 64.9 27.0 64.9 28.0 64.8 29.0 64.6 30.0 64.5 31.0 64.6 32.0 64.7 33.0 64.6 33.7 64.5 34.5 64.3 35.5 64.1 36.0 64.0 37.0 63.8 38.0 63.7 39.0 63.6 40.0 63.5 40.5 63.5 41.5 63.4 42.5 63.3 43.5 63.1 44.2 63.0M68.0 38.0 69.0 37.6 70.0 37.5 71.0 37.8 71.5 38.3 71.9 39.0 72.0 39.5 72.0 40.5 71.9 41.0 71.6 42.0 71.5 42.5 71.2 43.5 71.0 44.1 70.8 45.0 70.5 46.0 70.3 46.5 70.0 47.1 69.5 47.8 69.0 48.4 68.5 48.9 68.0 49.4 67.5 49.9 67.0 50.4 66.5 50.9 66.0 51.3 65.5 51.7 64.8 52.0 64.0 52.2 63.0 52.3 62.0 52.2 61.3 52.0 60.7 51.5 60.5 50.5 60.9 49.5 61.2 49.0 61.5 48.5 62.0 47.7 62.4 47.0 62.7 46.5 63.0 45.8 63.3 45.0 63.6 44.5 64.0 43.5 64.1 43.0 64.4 42.0 64.6 41.5 65.0 40.8 65.5 40.2 66.0 39.7 66.5 39.2 67.0 38.8 67.5 38.4 68.0 38.0M36.8 65.5 37.5 65.4 38.5 65.2 39.5 65.1 40.5 65.1 41.5 65.1 42.5 65.3 43.1 65.5 43.5 66.0 43.5 66.5 43.0 67.3 42.6 68.0 42.2 68.5 41.9 69.0 41.4 69.5 40.7 70.0 40.0 70.4 39.5 70.6 38.5 70.9 38.0 71.0 37.0 71.2 36.0 71.5 35.5 71.8 35.0 72.2 34.5 72.9 34.1 73.5 33.7 74.0 33.3 74.5 32.8 75.0 32.2 75.5 31.7 76.0 31.1 76.5 30.5 77.0 30.0 77.4 29.5 77.7 29.0 78.0 28.0 78.5 27.5 78.8 27.0 79.1 26.3 79.5 25.5 80.0 25.0 80.3 24.5 80.5 23.5 81.0 23.0 81.2 22.3 81.5 21.5 81.8 21.0 82.0 20.0 82.4 19.4 82.5 18.5 82.6 17.5 82.7 16.5 82.8 15.5 82.7 14.8 82.5 14.0 82.2 13.4 82.0 12.5 81.6 12.0 81.3 11.5 81.0 10.9 80.5 10.5 79.9 10.2 79.0 10.2 78.0 10.3 77.0 10.5 76.0 10.6 75.5 11.0 74.5 11.2 74.0 11.5 73.5 12.0 72.8 12.5 72.1 13.0 71.6 13.5 71.1 14.0 70.6 14.5 70.2 15.0 69.8 15.5 69.5 16.5 69.0 17.0 68.8 17.7 68.5 18.5 68.2 19.3 68.0 20.0 67.8 20.9 67.5 21.5 67.3 22.4 67.0 23.0 66.8 24.0 66.6 24.5 66.5 25.5 66.4 26.5 66.4 27.5 66.4 28.5 66.4 29.5 66.3 30.5 66.3 31.5 66.3 32.5 66.3 33.5 66.2 34.5 66.0 35.0 65.9 36.0 65.7 36.8 65.5M66.5 45.5 67.0 45.3 67.5 45.2 68.0 45.5 68.0 45.6 68.1 46.0 68.0 46.3 67.9 46.5 67.6 47.0 67.5 47.1 67.0 47.5 66.9 47.5 66.5 47.6 66.0 47.6 65.7 47.5 65.5 47.2 65.4 47.0 65.5 46.7 65.5 46.5 65.9 46.0 66.0 45.9 66.5 45.5 66.5 45.5M24.0 68.0 24.5 67.9 25.5 67.8 26.5 67.8 27.5 67.8 28.4 68.0 29.0 68.2 29.9 68.5 30.5 68.8 31.0 69.0 31.6 69.5 32.0 70.0 32.5 71.0 32.6 71.5 32.5 72.5 32.4 73.0 32.0 73.8 31.5 74.4 31.0 75.0 30.5 75.4 30.0 75.9 29.5 76.3 29.0 76.7 28.5 77.0 27.7 77.5 27.0 77.9 26.5 78.2 26.0 78.6 25.3 79.0 24.5 79.4 24.0 79.6 23.2 80.0 22.5 80.3 22.0 80.5 21.0 81.0 20.5 81.2 19.5 81.5 19.0 81.6 18.0 81.6 17.0 81.6 16.0 81.5 15.5 81.4 14.5 81.0 14.0 80.8 13.4 80.5 12.6 80.0 12.1 79.5 11.9 79.0 11.6 78.0 11.6 77.0 11.8 76.0 12.0 75.3 12.3 74.5 12.6 74.0 13.0 73.4 13.5 72.7 14.0 72.1 14.5 71.5 15.0 71.1 15.5 70.7 16.0 70.3 16.6 70.0 17.5 69.6 18.0 69.4 19.0 69.1 19.5 68.9 20.5 68.7 21.4 68.5 22.0 68.4 23.0 68.2 24.0 68.0M25.9 69.0 26.1 69.0 27.0 69.1 28.0 69.4 28.5 69.6 29.1 70.0 29.8 70.5 30.3 71.0 30.6 71.5 30.9 72.5 30.6 73.5 30.3 74.0 29.9 74.5 29.3 75.0 28.7 75.5 28.1 76.0 27.5 76.5 27.0 76.8 26.5 77.2 26.0 77.5 25.2 78.0 24.5 78.4 24.0 78.6 23.2 79.0 22.5 79.3 22.0 79.6 21.1 80.0 20.5 80.3 19.7 80.5 19.0 80.6 18.0 80.7 17.0 80.5 16.5 80.4 15.5 80.1 15.0 79.9 14.1 79.5 13.5 79.1 13.1 78.5 12.9 78.0 12.7 77.0 12.9 76.0 13.0 75.5 13.5 74.5 13.7 74.0 14.0 73.5 14.5 72.9 15.0 72.3 15.5 71.8 16.0 71.4 16.6 71.0 17.5 70.5 18.0 70.3 18.7 70.0 19.5 69.7 20.5 69.5 21.0 69.4 22.0 69.3 23.0 69.3 24.0 69.2 25.0 69.1 25.9 69.0M19.5 70.5 20.5 70.3 21.5 70.2 22.5 70.3 23.5 70.3 24.5 70.3 25.5 70.3 26.5 70.3 27.1 70.5 28.0 71.0 28.5 71.4 29.0 72.0 29.2 72.5 29.0 73.4 28.6 74.0 28.1 74.5 27.6 75.0 27.0 75.5 26.5 75.9 26.0 76.3 25.5 76.7 25.0 77.0 24.2 77.5 23.5 77.8 23.0 78.1 22.3 78.5 21.5 78.9 21.0 79.2 20.2 79.5 19.5 79.7 18.5 79.8 17.5 79.6 16.9 79.5 16.0 79.2 15.5 79.0 14.6 78.5 14.2 78.0 13.9 77.5 13.8 76.5 14.0 75.5 14.2 75.0 14.5 74.4 15.0 73.6 15.5 73.0 16.0 72.5 16.5 72.0 17.0 71.7 17.5 71.4 18.2 71.0 19.0 70.7 19.5 70.5M19.1 71.5 20.0 71.2 21.0 71.1 22.0 71.2 23.0 71.4 23.5 71.5 24.5 71.7 25.5 71.8 26.1 72.0 26.8 72.5 26.8 73.5 26.5 74.1 26.0 74.7 25.5 75.3 25.0 75.7 24.5 76.1 23.9 76.5 23.1 77.0 22.5 77.4 22.0 77.7 21.5 78.0 20.5 78.5 20.0 78.7 19.0 78.8 18.0 78.8 17.0 78.6 16.5 78.4 15.8 78.0 15.2 77.5 14.9 77.0 14.9 76.0 15.0 75.4 15.4 74.5 15.7 74.0 16.1 73.5 16.7 73.0 17.3 72.5 18.0 72.0 18.5 71.8 19.1 71.5" fill="none" stroke="#333" stroke-width="0.7"/></svg>
<path d="M0 0H97.75V99.4" fill="none" stroke="#8a8a8a" stroke-width="1.1"/>
<path d="M0 0V99.4H97.75" fill="none" stroke="#444" stroke-width="1.1"/>
<path d="M40.85 0V99.4M0 59.5H40.85" stroke="#555" stroke-width="1.1" fill="none"/>
<path d="M40.85 59.5H97.75" stroke="#777" stroke-width="1.1" fill="none"/>
<path d="M7.4 99.4v1.6M0 91.9h-1.4M11.7 99.4v1.6M0 87.5h-1.4M14.7 99.4v1.6M0 84.4h-1.4M17.1 99.4v1.6M0 82.0h-1.4M19.0 99.4v1.6M0 80.1h-1.4M20.7 99.4v1.6M0 78.4h-1.4M22.1 99.4v1.6M0 77.0h-1.4M23.3 99.4v1.6M0 75.7h-1.4M31.8 99.4v1.6M0 67.1h-1.4M36.1 99.4v1.6M0 62.7h-1.4M39.2 99.4v1.6M0 59.6h-1.4M41.5 99.4v1.6M0 57.2h-1.4M43.5 99.4v1.6M0 55.2h-1.4M45.1 99.4v1.6M0 53.5h-1.4M46.5 99.4v1.6M0 52.1h-1.4M47.8 99.4v1.6M0 50.8h-1.4M56.2 99.4v1.6M0 42.2h-1.4M60.5 99.4v1.6M0 37.8h-1.4M63.6 99.4v1.6M0 34.7h-1.4M66.0 99.4v1.6M0 32.3h-1.4M67.9 99.4v1.6M0 30.4h-1.4M69.5 99.4v1.6M0 28.7h-1.4M70.9 99.4v1.6M0 27.3h-1.4M72.2 99.4v1.6M0 26.0h-1.4M80.7 99.4v1.6M0 17.4h-1.4M85.0 99.4v1.6M0 13.0h-1.4M88.0 99.4v1.6M0 9.9h-1.4M90.4 99.4v1.6M0 7.5h-1.4M92.3 99.4v1.6M0 5.5h-1.4M94.0 99.4v1.6M0 3.8h-1.4M95.4 99.4v1.6M0 2.4h-1.4M96.6 99.4v1.6M0 1.1h-1.4" stroke="#666" stroke-width="0.6" fill="none"/>
<text class="p" x="98.15" y="10.9" font-size="10.7" font-weight="700" text-anchor="end" fill="#111">23%</text>
<text class="p" x="97.45" y="97.90" font-size="10.7" font-weight="700" text-anchor="end" fill="#111">7%</text>
<text class="p" x="0.70" y="97.90" font-size="10.7" font-weight="700" fill="#111">66%</text>
<text class="s" x="-5.6" y="116.2" font-size="10" font-weight="700">10<tspan dx="0.6" dy="-4.3" font-size="8.8">0</tspan></text>
<text class="s" x="-3.7" y="104.2" font-size="10" font-weight="700" text-anchor="end">10<tspan dx="0.6" dy="-4.3" font-size="8.8">0</tspan></text>
<text class="s" x="42.7" y="116.2" font-size="10" font-weight="700">10<tspan dx="0.6" dy="-4.3" font-size="8.8">2</tspan></text>
<text class="s" x="-3.7" y="54.5" font-size="10" font-weight="700" text-anchor="end">10<tspan dx="0.6" dy="-4.3" font-size="8.8">2</tspan></text>
<text class="s" x="89.2" y="116.2" font-size="10" font-weight="700">10<tspan dx="0.6" dy="-4.3" font-size="8.8">4</tspan></text>
<text class="s" x="-3.7" y="4.8" font-size="10" font-weight="700" text-anchor="end">10<tspan dx="0.6" dy="-4.3" font-size="8.8">4</tspan></text>
</g>
<g transform="translate(211.5 592.9)">
<svg x="0" y="0" width="97.35" height="99.4" overflow="hidden"><path d="M54.3 19.5 55.0 19.4 56.0 19.4 56.6 19.5 57.5 19.7 58.2 20.0 59.0 20.4 59.5 20.9 60.0 21.4 60.4 22.0 60.7 22.5 61.0 23.1 61.5 24.0 61.7 24.5 62.0 25.0 62.5 25.9 62.8 26.5 63.1 27.0 63.5 27.8 63.8 28.5 64.0 29.0 64.4 30.0 64.6 30.5 64.9 31.5 65.0 32.4 65.1 33.0 65.2 34.0 65.3 35.0 65.4 36.0 65.4 37.0 65.3 38.0 65.2 39.0 65.0 39.9 64.9 40.5 64.6 41.5 64.5 42.1 64.3 43.0 64.0 44.0 63.9 44.5 63.6 45.5 63.4 46.0 63.1 47.0 62.9 47.5 62.5 48.5 62.3 49.0 62.0 49.5 61.5 50.5 61.3 51.0 61.0 51.7 60.7 52.5 60.4 53.0 60.0 54.0 59.8 54.5 59.5 55.1 59.2 56.0 59.0 56.5 58.5 57.5 58.2 58.0 57.9 58.5 57.5 59.1 57.0 60.0 56.7 60.5 56.5 61.0 56.0 62.0 55.8 62.5 55.5 63.1 55.0 64.0 54.7 64.5 54.4 65.0 54.0 65.5 53.5 66.2 53.0 66.9 52.5 67.5 52.2 68.0 51.8 68.5 51.3 69.0 50.9 69.5 50.4 70.0 49.9 70.5 49.3 71.0 48.8 71.5 48.1 72.0 47.5 72.4 47.0 72.8 46.5 73.1 45.8 73.5 45.0 73.9 44.5 74.2 43.9 74.5 43.0 74.9 42.5 75.1 41.6 75.5 41.0 75.8 40.5 76.0 39.6 76.5 39.0 76.9 38.5 77.3 38.0 77.7 37.5 78.1 37.0 78.6 36.5 79.1 36.0 79.5 35.5 80.0 34.8 80.5 34.2 81.0 33.5 81.5 33.0 81.9 32.5 82.2 32.0 82.5 31.2 83.0 30.5 83.4 30.0 83.6 29.3 84.0 28.5 84.3 28.0 84.5 27.0 84.8 26.1 85.0 25.5 85.1 24.5 85.3 23.5 85.5 23.0 85.7 22.0 86.0 21.5 86.1 20.5 86.4 19.9 86.5 19.0 86.7 18.0 86.8 17.0 86.9 16.0 87.0 15.0 86.9 14.0 86.7 13.1 86.5 12.5 86.3 11.6 86.0 11.0 85.7 10.5 85.5 9.7 85.0 9.1 84.5 8.7 84.0 8.3 83.5 8.0 82.9 7.7 82.0 7.5 81.3 7.4 80.5 7.4 79.5 7.5 78.5 7.5 78.0 7.6 77.0 7.8 76.0 8.0 75.3 8.3 74.5 8.6 74.0 9.0 73.3 9.5 72.6 9.9 72.0 10.3 71.5 10.7 71.0 11.1 70.5 11.5 70.0 12.0 69.5 12.5 69.0 13.1 68.5 13.7 68.0 14.4 67.5 15.0 67.0 15.5 66.7 16.0 66.4 16.8 66.0 17.5 65.6 18.0 65.4 18.7 65.0 19.5 64.6 20.0 64.3 20.8 64.0 21.5 63.7 22.2 63.5 23.0 63.2 23.8 63.0 24.5 62.8 25.4 62.5 26.0 62.3 27.0 62.0 27.5 61.8 28.5 61.6 29.0 61.5 30.0 61.2 30.8 61.0 31.5 60.8 32.5 60.5 33.0 60.4 34.0 60.0 34.5 59.9 35.5 59.5 36.0 59.3 36.8 59.0 37.5 58.6 38.0 58.3 38.5 57.9 39.0 57.4 39.5 56.8 40.0 56.0 40.2 55.5 40.5 54.9 40.8 54.0 41.0 53.5 41.3 52.5 41.5 51.8 41.8 51.0 42.0 50.3 42.2 49.5 42.5 48.5 42.6 48.0 42.7 47.0 42.8 46.0 43.0 45.0 43.1 44.5 43.2 43.5 43.4 42.5 43.5 41.7 43.6 41.0 43.8 40.0 44.0 39.2 44.1 38.5 44.4 37.5 44.5 36.9 44.7 36.0 45.0 35.0 45.1 34.5 45.5 33.5 45.6 33.0 45.9 32.0 46.0 31.5 46.3 30.5 46.5 30.0 46.8 29.0 47.0 28.5 47.5 27.5 47.7 27.0 48.0 26.5 48.5 25.6 48.9 25.0 49.2 24.5 49.5 24.0 50.0 23.3 50.5 22.7 51.0 22.0 51.4 21.5 51.9 21.0 52.4 20.5 53.0 20.1 53.5 19.8 54.3 19.5M54.1 22.0 55.0 21.8 56.0 21.9 56.5 22.1 57.3 22.5 57.9 23.0 58.3 23.5 58.7 24.0 59.0 24.6 59.4 25.5 59.6 26.0 60.0 26.8 60.4 27.5 60.6 28.0 61.0 28.8 61.3 29.5 61.5 30.2 61.7 31.0 62.0 32.0 62.1 32.5 62.2 33.5 62.3 34.5 62.4 35.5 62.4 36.5 62.5 37.5 62.4 38.5 62.3 39.5 62.1 40.5 62.0 41.3 61.9 42.0 61.7 43.0 61.5 43.8 61.3 44.5 61.1 45.5 60.9 46.0 60.6 47.0 60.5 47.5 60.1 48.5 59.9 49.0 59.5 49.9 59.3 50.5 59.0 51.3 58.8 52.0 58.5 52.7 58.2 53.5 58.0 54.0 57.6 55.0 57.3 55.5 57.0 56.2 56.5 57.0 56.1 57.5 55.8 58.0 55.4 58.5 55.0 59.1 54.6 60.0 54.4 60.5 54.2 61.5 54.0 62.3 53.8 63.0 53.5 63.9 53.3 64.5 53.0 65.0 52.5 65.8 52.1 66.5 51.7 67.0 51.4 67.5 50.9 68.0 50.5 68.5 50.0 69.0 49.5 69.6 49.0 70.0 48.5 70.5 47.8 71.0 47.1 71.5 46.5 71.9 46.0 72.1 45.2 72.5 44.5 72.8 43.8 73.0 43.0 73.2 42.0 73.4 41.5 73.6 40.5 73.9 40.0 74.1 39.3 74.5 38.5 75.0 38.0 75.3 37.5 75.6 37.0 76.1 36.5 76.5 36.0 77.0 35.5 77.5 35.0 78.0 34.4 78.5 33.9 79.0 33.2 79.5 32.5 80.0 32.0 80.4 31.5 80.7 30.9 81.0 30.0 81.5 29.5 81.8 29.0 82.0 28.0 82.5 27.5 82.7 26.5 83.0 26.0 83.1 25.0 83.3 24.2 83.5 23.5 83.7 22.5 84.0 22.0 84.1 21.0 84.4 20.5 84.5 19.5 84.7 18.5 84.9 17.5 85.0 17.0 85.0 16.5 85.0 15.5 84.9 14.5 84.6 14.0 84.5 13.0 84.0 12.5 83.7 12.0 83.3 11.5 82.8 11.0 82.2 10.6 81.5 10.4 81.0 10.1 80.0 10.0 79.1 9.9 78.5 9.9 77.5 10.0 76.9 10.2 76.0 10.5 75.1 10.8 74.5 11.0 74.0 11.5 73.2 12.0 72.5 12.4 72.0 12.8 71.5 13.2 71.0 13.7 70.5 14.2 70.0 14.7 69.5 15.3 69.0 16.0 68.5 16.5 68.1 17.0 67.8 17.6 67.5 18.5 67.0 19.0 66.7 19.5 66.4 20.3 66.0 21.0 65.6 21.5 65.4 22.5 65.1 23.0 64.9 24.0 64.6 24.5 64.5 25.5 64.2 26.1 64.0 27.0 63.7 27.6 63.5 28.5 63.2 29.3 63.0 30.0 62.8 31.0 62.6 31.5 62.5 32.5 62.2 33.3 62.0 34.0 61.8 35.0 61.6 35.5 61.4 36.5 61.3 37.5 61.1 38.1 61.0 39.0 60.8 40.0 60.7 40.9 60.5 41.5 60.3 42.1 60.0 42.9 59.5 43.4 59.0 43.7 58.5 43.9 57.5 44.0 56.7 44.0 56.0 44.0 55.0 44.0 54.3 44.0 53.5 44.0 52.9 44.1 52.0 44.4 51.0 44.6 50.5 44.8 49.5 45.0 48.6 45.1 48.0 45.2 47.0 45.2 46.0 45.3 45.0 45.3 44.0 45.4 43.0 45.5 42.0 45.5 41.5 45.6 40.5 45.8 39.5 46.0 38.5 46.1 38.0 46.3 37.0 46.5 36.2 46.7 35.5 47.0 34.5 47.1 34.0 47.4 33.0 47.5 32.5 47.7 31.5 48.0 30.7 48.2 30.0 48.5 29.3 48.8 28.5 49.0 28.0 49.5 27.0 49.7 26.5 50.0 26.0 50.5 25.3 51.0 24.6 51.5 24.0 52.0 23.5 52.5 23.0 53.0 22.6 53.5 22.3 54.1 22.0M53.7 24.0 54.5 23.7 55.5 23.7 56.1 24.0 56.8 24.5 57.2 25.0 57.6 25.5 58.0 26.2 58.4 27.0 58.7 27.5 59.0 28.2 59.4 29.0 59.6 29.5 59.8 30.5 60.0 31.5 60.1 32.0 60.2 33.0 60.4 34.0 60.4 35.0 60.5 36.0 60.5 37.0 60.5 38.0 60.4 39.0 60.2 40.0 60.1 41.0 60.0 41.8 59.9 42.5 59.8 43.5 59.6 44.5 59.5 45.0 59.3 46.0 59.1 47.0 59.0 47.5 58.7 48.5 58.5 49.1 58.2 50.0 58.0 50.5 57.6 51.5 57.4 52.0 57.1 53.0 56.9 53.5 56.5 54.4 56.2 55.0 55.9 55.5 55.5 56.1 55.0 56.6 54.5 57.1 54.0 57.6 53.5 58.0 52.8 58.5 52.0 58.9 51.5 59.0 51.0 59.0 50.0 58.5 49.5 58.2 49.0 57.9 48.5 57.5 47.9 57.0 47.5 56.3 47.2 55.5 47.0 54.9 46.7 54.0 46.5 53.4 46.3 52.5 46.3 51.5 46.4 50.5 46.5 50.0 46.6 49.0 46.7 48.0 46.8 47.0 46.8 46.0 46.8 45.0 46.8 44.0 46.7 43.0 46.7 42.0 46.8 41.0 46.9 40.0 47.0 39.3 47.1 38.5 47.3 37.5 47.5 36.9 47.7 36.0 48.0 35.0 48.1 34.5 48.3 33.5 48.5 32.9 48.7 32.0 49.0 31.0 49.2 30.5 49.5 29.8 49.8 29.0 50.1 28.5 50.5 27.6 50.8 27.0 51.1 26.5 51.5 25.9 52.0 25.3 52.5 24.8 53.0 24.4 53.7 24.0M49.8 61.5 50.5 61.2 51.5 61.2 52.0 61.7 52.3 62.5 52.4 63.5 52.2 64.5 52.0 65.0 51.5 65.9 51.1 66.5 50.8 67.0 50.4 67.5 50.0 68.0 49.5 68.5 49.0 69.0 48.4 69.5 47.8 70.0 47.1 70.5 46.5 70.9 46.0 71.1 45.0 71.5 44.5 71.6 43.5 71.7 42.5 71.5 42.0 71.3 41.0 71.2 40.3 71.5 39.7 72.0 39.1 72.5 38.5 73.0 38.0 73.4 37.5 73.8 37.0 74.2 36.5 74.6 36.0 75.1 35.5 75.6 35.0 76.1 34.5 76.6 34.0 77.1 33.5 77.6 33.0 78.1 32.5 78.5 31.8 79.0 31.0 79.5 30.5 79.8 30.0 80.1 29.2 80.5 28.5 80.8 28.0 81.0 27.0 81.4 26.5 81.6 25.5 81.9 24.9 82.0 24.0 82.2 23.0 82.5 22.5 82.6 21.5 82.9 21.0 83.1 20.0 83.3 19.0 83.4 18.5 83.5 17.5 83.6 16.8 83.5 16.0 83.3 15.0 83.0 14.5 82.8 14.0 82.5 13.3 82.0 12.8 81.5 12.5 81.0 12.0 80.0 11.9 79.5 11.8 78.5 11.9 77.5 12.0 76.6 12.2 76.0 12.5 75.0 12.7 74.5 13.0 73.9 13.5 73.0 13.8 72.5 14.2 72.0 14.6 71.5 15.0 71.0 15.5 70.5 16.1 70.0 16.7 69.5 17.3 69.0 18.0 68.6 18.5 68.3 19.0 68.0 19.8 67.5 20.5 67.1 21.0 66.8 21.7 66.5 22.5 66.2 23.2 66.0 24.0 65.8 25.0 65.5 25.5 65.4 26.5 65.0 27.0 64.9 28.0 64.6 28.5 64.4 29.5 64.1 30.1 64.0 31.0 63.8 32.0 63.5 32.5 63.4 33.5 63.2 34.5 63.0 35.0 62.9 36.0 62.8 37.0 62.7 38.0 62.7 39.0 62.8 40.0 63.0 40.5 63.1 41.3 63.5 41.9 64.0 42.4 64.5 43.0 65.0 43.5 65.2 44.2 65.0 45.0 64.7 45.5 64.4 46.1 64.0 46.8 63.5 47.4 63.0 48.0 62.6 48.5 62.2 49.0 61.9 49.8 61.5M53.3 26.0 54.0 25.6 55.0 25.6 55.8 26.0 56.4 26.5 56.8 27.0 57.1 27.5 57.5 28.1 58.0 29.0 58.2 29.5 58.5 30.5 58.5 31.0 58.7 32.0 58.8 33.0 58.9 34.0 59.0 35.0 59.0 36.0 59.0 36.5 59.0 37.5 59.0 38.1 58.9 39.0 58.8 40.0 58.6 41.0 58.6 42.0 58.5 42.6 58.4 43.5 58.3 44.5 58.1 45.5 58.0 46.2 57.9 47.0 57.7 48.0 57.5 48.9 57.3 49.5 57.0 50.3 56.7 51.0 56.5 51.6 56.1 52.5 55.9 53.0 55.5 53.9 55.1 54.5 54.7 55.0 54.1 55.5 53.5 55.9 53.0 56.1 52.0 56.3 51.0 56.2 50.5 56.0 49.7 55.5 49.3 55.0 48.9 54.5 48.5 53.6 48.3 53.0 48.0 52.0 48.0 51.5 47.9 50.5 47.9 49.5 47.9 48.5 48.0 47.5 48.0 47.0 48.0 46.4 48.0 45.5 47.9 44.5 47.8 43.5 47.8 42.5 47.8 41.5 47.8 40.5 48.0 39.5 48.0 39.0 48.2 38.0 48.4 37.0 48.5 36.5 48.8 35.5 49.0 34.7 49.2 34.0 49.4 33.0 49.6 32.5 49.9 31.5 50.1 31.0 50.5 30.1 50.8 29.5 51.1 29.0 51.5 28.2 51.9 27.5 52.3 27.0 52.7 26.5 53.3 26.0M48.3 64.0 49.0 63.7 50.0 63.5 50.7 64.0 50.8 65.0 50.5 65.8 50.1 66.5 49.7 67.0 49.3 67.5 48.8 68.0 48.3 68.5 47.7 69.0 47.0 69.5 46.5 69.8 46.0 70.0 45.0 70.2 44.3 70.0 43.8 69.5 43.8 68.5 44.0 68.0 44.5 67.3 45.0 66.7 45.5 66.2 46.0 65.8 46.5 65.4 47.0 64.9 47.6 64.5 48.3 64.0M33.7 64.5 34.5 64.4 35.5 64.3 36.5 64.3 37.5 64.4 38.0 64.6 38.8 65.0 39.3 65.5 39.6 66.0 39.8 67.0 39.7 68.0 39.5 68.5 39.1 69.5 38.8 70.0 38.4 70.5 38.0 71.1 37.5 71.6 37.0 72.2 36.5 72.7 36.0 73.2 35.5 73.7 35.0 74.3 34.5 74.8 34.0 75.3 33.5 75.9 33.0 76.4 32.5 76.9 32.0 77.4 31.5 77.8 31.0 78.2 30.5 78.5 29.6 79.0 29.0 79.3 28.5 79.6 27.5 80.0 27.0 80.2 26.0 80.5 25.5 80.7 24.5 80.9 24.0 81.0 23.0 81.3 22.2 81.5 21.5 81.7 20.5 81.9 19.7 82.0 19.0 82.1 18.0 82.1 17.2 82.0 16.5 81.8 15.8 81.5 15.0 81.0 14.5 80.6 14.1 80.0 13.9 79.5 13.7 78.5 13.7 77.5 13.8 76.5 14.0 75.9 14.2 75.0 14.5 74.2 14.8 73.5 15.1 73.0 15.5 72.3 16.0 71.7 16.5 71.1 17.0 70.6 17.5 70.2 18.0 69.8 18.5 69.5 19.2 69.0 20.0 68.5 20.5 68.2 21.0 67.9 21.8 67.5 22.5 67.2 23.1 67.0 24.0 66.8 25.0 66.5 25.5 66.4 26.5 66.1 27.0 65.9 28.0 65.6 28.6 65.5 29.5 65.3 30.5 65.1 31.0 65.0 32.0 64.8 33.0 64.6 33.7 64.5M53.8 27.5 54.5 27.3 55.4 27.5 56.0 28.0 56.5 28.5 56.8 29.0 57.0 29.5 57.4 30.5 57.5 31.2 57.6 32.0 57.8 33.0 57.9 34.0 57.9 35.0 58.0 36.0 58.0 36.5 58.0 37.5 58.0 38.1 57.9 39.0 57.8 40.0 57.7 41.0 57.6 42.0 57.5 43.0 57.5 43.5 57.3 44.5 57.2 45.5 57.1 46.5 57.0 47.5 56.9 48.0 56.7 49.0 56.5 49.5 56.1 50.5 55.9 51.0 55.5 51.9 55.2 52.5 54.9 53.0 54.5 53.6 54.0 54.1 53.4 54.5 52.5 54.8 51.5 54.7 51.0 54.5 50.3 54.0 49.9 53.5 49.5 52.7 49.3 52.0 49.1 51.0 49.0 50.5 48.9 49.5 48.9 48.5 48.8 47.5 48.8 46.5 48.8 45.5 48.7 44.5 48.6 43.5 48.6 42.5 48.6 41.5 48.6 40.5 48.7 39.5 48.8 38.5 49.0 37.7 49.1 37.0 49.4 36.0 49.5 35.5 49.8 34.5 50.0 33.7 50.2 33.0 50.5 32.1 50.8 31.5 51.0 31.0 51.5 30.2 51.9 29.5 52.3 29.0 52.6 28.5 53.1 28.0 53.8 27.5M31.0 66.0 31.5 65.9 32.5 65.8 33.5 65.7 34.5 65.6 35.5 65.7 36.5 65.9 37.0 66.1 37.5 66.6 37.9 67.5 37.8 68.5 37.5 69.4 37.1 70.0 36.8 70.5 36.3 71.0 35.9 71.5 35.5 72.0 35.0 72.6 34.5 73.2 34.0 73.8 33.5 74.4 33.0 75.0 32.5 75.5 32.1 76.0 31.6 76.5 31.0 77.0 30.5 77.4 30.0 77.8 29.5 78.1 28.7 78.5 28.0 78.8 27.5 79.0 26.5 79.4 26.0 79.6 25.0 79.9 24.5 80.0 23.5 80.2 22.5 80.4 22.0 80.5 21.0 80.8 20.0 80.9 19.0 80.9 18.0 80.8 17.1 80.5 16.5 80.2 16.0 79.8 15.5 79.1 15.2 78.5 15.1 77.5 15.2 76.5 15.4 75.5 15.5 74.9 15.8 74.0 16.0 73.5 16.5 72.6 17.0 72.0 17.4 71.5 17.9 71.0 18.5 70.5 19.0 70.2 19.5 69.8 20.0 69.5 20.8 69.0 21.5 68.6 22.0 68.3 22.5 68.0 23.5 67.6 24.1 67.5 25.0 67.3 26.0 67.0 26.5 66.9 27.5 66.6 28.1 66.5 29.0 66.3 30.0 66.2 31.0 66.0M47.8 66.0 48.0 65.9 48.5 65.7 48.8 66.0 48.6 66.5 48.5 66.6 48.2 67.0 48.0 67.2 47.6 67.5 47.5 67.6 47.0 67.8 46.5 67.6 46.5 67.5 46.5 67.5 46.8 67.0 47.0 66.8 47.2 66.5 47.5 66.2 47.8 66.0M53.9 29.5 54.5 29.3 55.2 29.5 55.7 30.0 56.0 30.5 56.4 31.5 56.5 32.1 56.7 33.0 56.8 34.0 56.9 35.0 57.0 35.7 57.0 36.5 57.1 37.5 57.0 38.5 57.0 39.0 56.9 40.0 56.7 41.0 56.7 42.0 56.6 43.0 56.5 44.0 56.5 44.5 56.4 45.5 56.3 46.5 56.2 47.5 56.0 48.5 55.9 49.0 55.5 50.0 55.3 50.5 55.0 51.0 54.5 51.9 54.0 52.5 53.5 52.9 53.0 53.2 52.0 53.2 51.4 53.0 50.9 52.5 50.5 51.9 50.2 51.0 50.0 50.2 49.9 49.5 49.8 48.5 49.7 47.5 49.6 46.5 49.6 45.5 49.5 44.5 49.5 44.0 49.4 43.0 49.3 42.0 49.3 41.0 49.4 40.0 49.5 39.0 49.5 38.5 49.7 37.5 49.9 36.5 50.1 36.0 50.3 35.0 50.5 34.5 50.9 33.5 51.1 33.0 51.5 32.1 51.9 31.5 52.2 31.0 52.7 30.5 53.2 30.0 53.9 29.5M27.6 67.5 28.5 67.4 29.5 67.3 30.5 67.2 31.5 67.1 32.5 67.0 33.5 67.0 34.5 67.1 35.5 67.5 35.9 68.0 35.9 69.0 35.5 69.9 35.1 70.5 34.7 71.0 34.3 71.5 34.0 72.0 33.5 72.7 33.0 73.4 32.6 74.0 32.2 74.5 31.7 75.0 31.3 75.5 30.8 76.0 30.2 76.5 29.5 77.0 29.0 77.3 28.5 77.6 27.7 78.0 27.0 78.3 26.5 78.5 25.5 78.8 24.8 79.0 24.0 79.2 23.0 79.3 22.0 79.4 21.5 79.5 20.5 79.6 19.5 79.6 18.8 79.5 18.0 79.2 17.5 78.8 17.0 78.2 16.7 77.5 16.7 76.5 16.7 75.5 16.9 74.5 17.1 74.0 17.5 73.2 18.0 72.5 18.4 72.0 18.9 71.5 19.5 71.0 20.0 70.6 20.5 70.3 21.0 69.9 21.6 69.5 22.4 69.0 23.0 68.7 23.5 68.5 24.5 68.2 25.2 68.0 26.0 67.8 27.0 67.6 27.6 67.5M53.6 31.5 54.5 31.4 55.0 31.8 55.4 32.5 55.6 33.0 55.9 34.0 56.0 34.6 56.1 35.5 56.2 36.5 56.2 37.5 56.2 38.5 56.1 39.5 56.0 40.4 55.9 41.0 55.9 42.0 55.8 43.0 55.7 44.0 55.7 45.0 55.6 46.0 55.6 47.0 55.5 47.7 55.3 48.5 55.0 49.5 54.7 50.0 54.4 50.5 54.0 51.0 53.5 51.5 52.5 51.9 51.8 51.5 51.3 51.0 51.0 50.3 50.8 49.5 50.6 48.5 50.5 48.0 50.4 47.0 50.3 46.0 50.2 45.0 50.2 44.0 50.1 43.0 50.0 42.0 50.0 41.5 50.0 40.5 50.0 39.8 50.1 39.0 50.2 38.0 50.4 37.0 50.6 36.5 50.8 35.5 51.0 35.0 51.4 34.0 51.7 33.5 52.0 32.9 52.5 32.3 53.0 31.9 53.6 31.5M26.3 68.5 27.0 68.4 28.0 68.3 29.0 68.2 30.0 68.2 31.0 68.2 32.0 68.3 32.9 68.5 33.5 68.8 33.9 69.5 33.6 70.5 33.3 71.0 33.0 71.7 32.6 72.5 32.3 73.0 31.9 73.5 31.5 74.0 31.0 74.6 30.5 75.1 30.0 75.6 29.5 76.0 28.8 76.5 28.0 77.0 27.5 77.2 26.8 77.5 26.0 77.8 25.5 78.0 24.5 78.2 23.5 78.3 22.5 78.3 21.5 78.3 20.5 78.3 19.5 78.0 19.0 77.7 18.5 77.1 18.3 76.5 18.2 75.5 18.4 74.5 18.5 74.0 19.0 73.1 19.5 72.5 19.9 72.0 20.4 71.5 21.0 71.0 21.5 70.7 22.0 70.3 22.5 69.9 23.1 69.5 24.0 69.1 24.5 68.9 25.5 68.6 26.3 68.5M52.8 33.5 53.5 33.1 54.5 33.5 54.8 34.0 55.0 34.5 55.3 35.5 55.4 36.5 55.4 37.5 55.4 38.5 55.4 39.5 55.2 40.5 55.2 41.5 55.1 42.5 55.0 43.5 55.0 44.1 55.0 45.0 54.9 46.0 54.9 47.0 54.7 48.0 54.5 48.7 54.1 49.5 53.6 50.0 53.0 50.4 52.1 50.0 51.8 49.5 51.5 48.8 51.3 48.0 51.1 47.0 51.0 46.0 51.0 45.5 50.9 44.5 50.8 43.5 50.7 42.5 50.6 41.5 50.6 40.5 50.6 39.5 50.8 38.5 50.9 37.5 51.0 37.0 51.3 36.0 51.5 35.4 51.9 34.5 52.3 34.0 52.8 33.5M25.0 69.5 25.5 69.4 26.5 69.2 27.5 69.1 28.5 69.0 29.5 69.1 30.5 69.2 31.4 69.5 32.0 70.0 32.1 70.5 32.0 71.5 31.8 72.0 31.5 72.7 31.0 73.4 30.5 74.0 30.1 74.5 29.5 75.0 29.0 75.4 28.5 75.8 28.0 76.1 27.2 76.5 26.5 76.8 26.0 77.0 25.0 77.3 24.0 77.4 23.0 77.3 22.0 77.1 21.5 77.0 20.6 76.5 20.2 76.0 19.9 75.5 19.9 74.5 20.0 74.0 20.5 73.1 20.9 72.5 21.4 72.0 21.9 71.5 22.5 71.0 23.0 70.6 23.5 70.2 24.0 69.9 25.0 69.5M52.7 35.0 53.5 34.6 54.0 35.0 54.5 36.0 54.6 36.5 54.6 37.5 54.6 38.5 54.6 39.5 54.5 40.3 54.4 41.0 54.3 42.0 54.3 43.0 54.2 44.0 54.1 45.0 54.1 46.0 54.0 46.7 53.8 47.5 53.5 48.2 53.0 48.5 52.5 48.1 52.3 47.5 52.0 46.6 51.9 46.0 51.8 45.0 51.7 44.0 51.5 43.0 51.4 42.5 51.3 41.5 51.2 40.5 51.3 39.5 51.4 38.5 51.5 38.0 51.7 37.0 52.0 36.1 52.3 35.5 52.7 35.0M26.1 70.0 27.0 69.9 28.0 69.9 29.0 69.9 29.5 70.0 30.5 70.5 30.9 71.0 30.8 72.0 30.5 72.7 30.0 73.4 29.5 73.9 29.0 74.4 28.5 74.8 28.0 75.2 27.5 75.5 26.5 76.0 26.0 76.1 25.0 76.4 24.0 76.5 23.0 76.3 22.4 76.0 21.8 75.5 21.5 75.0 21.5 74.0 21.7 73.5 22.1 73.0 22.5 72.5 23.0 72.0 23.5 71.4 24.0 70.9 24.6 70.5 25.5 70.1 26.1 70.0" fill="none" stroke="#333" stroke-width="0.7"/></svg>
<path d="M0 0H97.35V99.4" fill="none" stroke="#8a8a8a" stroke-width="1.1"/>
<path d="M0 0V99.4H97.35" fill="none" stroke="#444" stroke-width="1.1"/>
<path d="M40.35 0V99.4M0 59.5H40.35" stroke="#555" stroke-width="1.1" fill="none"/>
<path d="M40.35 59.5H97.35" stroke="#777" stroke-width="1.1" fill="none"/>
<path d="M7.3 99.4v1.6M0 91.9h-1.4M11.6 99.4v1.6M0 87.5h-1.4M14.7 99.4v1.6M0 84.4h-1.4M17.0 99.4v1.6M0 82.0h-1.4M18.9 99.4v1.6M0 80.1h-1.4M20.6 99.4v1.6M0 78.4h-1.4M22.0 99.4v1.6M0 77.0h-1.4M23.2 99.4v1.6M0 75.7h-1.4M31.7 99.4v1.6M0 67.1h-1.4M35.9 99.4v1.6M0 62.7h-1.4M39.0 99.4v1.6M0 59.6h-1.4M41.3 99.4v1.6M0 57.2h-1.4M43.3 99.4v1.6M0 55.2h-1.4M44.9 99.4v1.6M0 53.5h-1.4M46.3 99.4v1.6M0 52.1h-1.4M47.6 99.4v1.6M0 50.8h-1.4M56.0 99.4v1.6M0 42.2h-1.4M60.3 99.4v1.6M0 37.8h-1.4M63.3 99.4v1.6M0 34.7h-1.4M65.7 99.4v1.6M0 32.3h-1.4M67.6 99.4v1.6M0 30.4h-1.4M69.2 99.4v1.6M0 28.7h-1.4M70.7 99.4v1.6M0 27.3h-1.4M71.9 99.4v1.6M0 26.0h-1.4M80.3 99.4v1.6M0 17.4h-1.4M84.6 99.4v1.6M0 13.0h-1.4M87.7 99.4v1.6M0 9.9h-1.4M90.0 99.4v1.6M0 7.5h-1.4M92.0 99.4v1.6M0 5.5h-1.4M93.6 99.4v1.6M0 3.8h-1.4M95.0 99.4v1.6M0 2.4h-1.4M96.2 99.4v1.6M0 1.1h-1.4" stroke="#666" stroke-width="0.6" fill="none"/>
<text class="p" x="96.30" y="10.5" font-size="10.7" font-weight="700" text-anchor="end" fill="#111">41%</text>
<text class="p" x="97.30" y="97.90" font-size="10.7" font-weight="700" text-anchor="end" fill="#111">10%</text>
<text class="p" x="0.75" y="97.90" font-size="10.7" font-weight="700" fill="#111">45%</text>
<text class="s" x="-5.6" y="116.2" font-size="10" font-weight="700">10<tspan dx="0.6" dy="-4.3" font-size="8.8">0</tspan></text>
<text class="s" x="-3.7" y="104.2" font-size="10" font-weight="700" text-anchor="end">10<tspan dx="0.6" dy="-4.3" font-size="8.8">0</tspan></text>
<text class="s" x="42.5" y="116.2" font-size="10" font-weight="700">10<tspan dx="0.6" dy="-4.3" font-size="8.8">2</tspan></text>
<text class="s" x="-3.7" y="54.5" font-size="10" font-weight="700" text-anchor="end">10<tspan dx="0.6" dy="-4.3" font-size="8.8">2</tspan></text>
<text class="s" x="88.8" y="116.2" font-size="10" font-weight="700">10<tspan dx="0.6" dy="-4.3" font-size="8.8">4</tspan></text>
<text class="s" x="-3.7" y="4.8" font-size="10" font-weight="700" text-anchor="end">10<tspan dx="0.6" dy="-4.3" font-size="8.8">4</tspan></text>
</g>
<g transform="translate(373.7 592.9)">
<svg x="0" y="0" width="97.45" height="99.4" overflow="hidden"><path d="M60.4 19.5 61.0 19.4 62.0 19.5 62.5 19.6 63.3 20.0 63.9 20.5 64.4 21.0 64.9 21.5 65.4 22.0 66.0 22.5 66.5 23.0 66.9 23.5 67.2 24.0 67.6 24.5 68.0 25.2 68.5 26.0 68.8 26.5 69.0 27.0 69.4 28.0 69.6 28.5 69.8 29.5 70.0 30.3 70.1 31.0 70.3 32.0 70.4 33.0 70.5 33.5 70.7 34.5 70.8 35.5 70.9 36.5 70.9 37.5 71.0 38.2 71.1 39.0 71.2 40.0 71.2 41.0 71.0 42.0 70.9 42.5 70.6 43.5 70.4 44.0 70.1 45.0 70.0 45.5 69.7 46.5 69.5 47.0 69.2 48.0 69.0 48.6 68.7 49.5 68.5 50.0 68.0 51.0 67.8 51.5 67.5 52.0 67.0 52.7 66.5 53.5 66.2 54.0 65.9 54.5 65.5 55.1 65.0 55.8 64.6 56.5 64.3 57.0 64.0 57.5 63.5 58.2 63.0 59.0 62.6 59.5 62.2 60.0 61.7 60.5 61.3 61.0 60.8 61.5 60.2 62.0 59.6 62.5 59.0 63.0 58.5 63.3 58.0 63.7 57.4 64.0 56.5 64.5 56.0 64.8 55.5 65.2 55.0 65.5 54.2 66.0 53.5 66.5 53.0 66.9 52.5 67.2 52.0 67.6 51.4 68.0 50.7 68.5 50.0 68.9 49.5 69.3 49.0 69.6 48.2 70.0 47.5 70.4 47.0 70.6 46.2 71.0 45.5 71.4 45.0 71.6 44.3 72.0 43.5 72.5 43.0 72.8 42.5 73.1 41.9 73.5 41.2 74.0 40.6 74.5 40.0 75.0 39.5 75.4 39.0 75.9 38.5 76.3 38.0 76.8 37.5 77.3 37.0 77.7 36.5 78.2 36.0 78.6 35.5 79.0 35.0 79.5 34.4 80.0 33.7 80.5 33.1 81.0 32.5 81.4 32.0 81.8 31.5 82.1 30.9 82.5 30.2 83.0 29.5 83.4 29.0 83.8 28.5 84.2 28.0 84.5 27.3 85.0 26.5 85.5 26.0 85.8 25.5 86.1 24.6 86.5 24.0 86.8 23.3 87.0 22.5 87.2 21.6 87.5 21.0 87.7 20.0 88.0 19.5 88.2 18.5 88.5 18.0 88.6 17.0 88.9 16.5 89.1 15.5 89.3 14.5 89.4 13.5 89.5 12.5 89.5 11.5 89.4 10.5 89.2 10.0 88.9 9.4 88.5 8.9 88.0 8.5 87.2 8.3 86.5 8.3 85.5 8.5 84.7 8.7 84.0 9.0 83.2 9.3 82.5 9.5 82.0 10.0 81.2 10.4 80.5 10.7 80.0 11.1 79.5 11.5 79.0 12.0 78.3 12.5 77.6 13.0 77.0 13.5 76.5 13.9 76.0 14.3 75.5 14.7 75.0 15.2 74.5 15.6 74.0 16.1 73.5 16.6 73.0 17.1 72.5 17.7 72.0 18.3 71.5 18.9 71.0 19.5 70.5 20.0 70.0 20.5 69.6 21.0 69.2 21.5 68.8 22.0 68.4 22.6 68.0 23.4 67.5 24.0 67.1 24.5 66.8 25.0 66.5 25.9 66.0 26.5 65.6 27.0 65.3 27.5 65.0 28.3 64.5 29.0 64.1 29.5 63.8 30.1 63.5 31.0 63.1 31.5 62.9 32.5 62.5 33.0 62.4 34.0 62.0 34.5 61.8 35.4 61.5 36.0 61.3 36.7 61.0 37.5 60.7 38.1 60.5 39.0 60.2 39.6 60.0 40.5 59.6 41.0 59.3 41.5 59.0 42.1 58.5 42.7 58.0 43.2 57.5 43.6 57.0 44.0 56.5 44.5 55.9 45.0 55.1 45.4 54.5 45.7 54.0 46.0 53.5 46.5 52.7 46.9 52.0 47.2 51.5 47.5 51.0 48.0 50.0 48.2 49.5 48.5 48.9 48.8 48.0 49.0 47.5 49.3 46.5 49.5 45.5 49.5 45.0 49.7 44.0 49.9 43.0 50.0 42.1 50.1 41.5 50.2 40.5 50.3 39.5 50.5 38.5 50.5 38.0 50.7 37.0 51.0 36.0 51.1 35.5 51.3 34.5 51.5 33.9 51.7 33.0 52.0 32.1 52.1 31.5 52.4 30.5 52.5 30.0 52.7 29.0 53.0 28.2 53.2 27.5 53.5 26.9 53.9 26.0 54.1 25.5 54.5 24.7 54.9 24.0 55.2 23.5 55.5 23.0 56.0 22.3 56.5 21.8 57.0 21.3 57.5 20.9 58.0 20.5 58.9 20.0 59.5 19.7 60.4 19.5M59.1 22.5 60.0 22.3 61.0 22.3 61.5 22.5 62.5 23.0 63.0 23.4 63.5 23.9 64.0 24.4 64.5 25.0 64.8 25.5 65.2 26.0 65.5 26.6 65.9 27.5 66.1 28.0 66.4 29.0 66.6 29.5 66.8 30.5 67.0 31.5 67.1 32.0 67.3 33.0 67.5 33.5 67.8 34.5 68.0 35.4 68.1 36.0 68.1 37.0 68.1 38.0 68.2 39.0 68.2 40.0 68.2 41.0 68.1 42.0 68.0 42.9 67.9 43.5 67.6 44.5 67.5 45.0 67.2 46.0 67.0 46.5 66.7 47.5 66.5 48.2 66.3 49.0 66.0 49.8 65.7 50.5 65.5 51.0 65.0 52.0 64.8 52.5 64.5 53.1 64.0 54.0 63.8 54.5 63.5 55.0 63.0 55.9 62.6 56.5 62.3 57.0 61.9 57.5 61.5 58.0 61.0 58.5 60.5 59.0 60.0 59.5 59.4 60.0 58.8 60.5 58.1 61.0 57.5 61.4 57.0 61.8 56.5 62.1 56.0 62.6 55.5 63.0 55.0 63.5 54.5 64.0 54.0 64.5 53.4 65.0 52.8 65.5 52.1 66.0 51.5 66.4 51.0 66.8 50.5 67.1 49.9 67.5 49.2 68.0 48.5 68.4 48.0 68.7 47.2 69.0 46.5 69.3 46.0 69.5 45.0 69.8 44.5 70.0 43.5 70.5 43.0 70.7 42.5 71.0 41.7 71.5 41.0 72.0 40.5 72.4 40.0 72.9 39.5 73.3 39.0 73.8 38.5 74.3 38.0 74.7 37.5 75.2 37.0 75.6 36.5 76.0 36.0 76.5 35.5 77.0 34.9 77.5 34.4 78.0 33.9 78.5 33.3 79.0 32.7 79.5 32.1 80.0 31.5 80.4 31.0 80.7 30.5 81.0 29.7 81.5 29.0 82.0 28.5 82.3 28.0 82.7 27.5 83.1 26.9 83.5 26.1 84.0 25.5 84.4 25.0 84.6 24.2 85.0 23.5 85.3 22.8 85.5 22.0 85.7 21.0 86.0 20.5 86.1 19.5 86.4 19.0 86.5 18.0 86.7 17.0 86.9 16.3 87.0 15.5 87.1 14.5 87.1 13.8 87.0 13.0 86.9 12.1 86.5 11.5 86.0 11.2 85.5 11.1 84.5 11.3 83.5 11.5 82.9 11.9 82.0 12.1 81.5 12.5 80.9 13.0 80.1 13.4 79.5 13.7 79.0 14.1 78.5 14.5 77.9 15.0 77.2 15.5 76.5 15.9 76.0 16.3 75.5 16.7 75.0 17.2 74.5 17.6 74.0 18.1 73.5 18.7 73.0 19.2 72.5 19.8 72.0 20.4 71.5 21.0 71.0 21.5 70.5 22.0 70.1 22.5 69.8 23.0 69.4 23.6 69.0 24.4 68.5 25.0 68.1 25.5 67.8 26.0 67.5 26.8 67.0 27.5 66.6 28.0 66.3 28.5 66.0 29.5 65.5 30.0 65.3 30.6 65.0 31.5 64.6 32.0 64.5 33.0 64.1 33.5 64.0 34.5 63.7 35.2 63.5 36.0 63.3 37.0 63.0 37.5 62.9 38.5 62.6 39.3 62.5 40.0 62.4 41.0 62.2 41.9 62.0 42.5 61.9 43.5 61.5 44.0 61.2 44.5 60.8 45.0 60.4 45.5 59.9 46.0 59.3 46.5 58.9 47.0 58.4 47.5 57.9 48.0 57.4 48.5 56.9 49.0 56.3 49.5 55.8 50.0 55.2 50.4 54.5 50.5 54.0 50.6 53.0 50.7 52.0 50.7 51.0 50.9 50.0 51.0 49.3 51.1 48.5 51.2 47.5 51.3 46.5 51.4 45.5 51.5 44.5 51.5 44.0 51.6 43.0 51.7 42.0 51.8 41.0 52.0 40.0 52.0 39.5 52.2 38.5 52.3 37.5 52.5 36.6 52.6 36.0 52.9 35.0 53.0 34.5 53.2 33.5 53.4 32.5 53.5 32.0 53.7 31.0 53.9 30.0 54.1 29.5 54.3 28.5 54.5 28.0 54.9 27.0 55.1 26.5 55.5 25.8 56.0 25.0 56.4 24.5 56.9 24.0 57.4 23.5 58.0 23.0 58.5 22.8 59.1 22.5M58.4 24.5 59.0 24.2 60.0 24.1 61.0 24.2 61.7 24.5 62.4 25.0 62.8 25.5 63.2 26.0 63.6 26.5 64.0 27.4 64.3 28.0 64.5 28.8 64.7 29.5 64.9 30.5 65.0 31.0 65.2 32.0 65.4 33.0 65.5 33.5 65.8 34.5 65.9 35.5 66.0 36.2 66.0 37.0 66.0 38.0 66.0 38.5 66.0 39.5 66.0 40.0 66.0 41.0 66.1 42.0 66.0 43.0 66.0 43.5 65.8 44.5 65.6 45.5 65.5 46.0 65.3 47.0 65.0 48.0 64.9 48.5 64.7 49.5 64.5 50.1 64.2 51.0 64.0 51.5 63.5 52.5 63.3 53.0 63.0 53.6 62.5 54.5 62.2 55.0 61.8 55.5 61.5 56.0 61.0 56.6 60.5 57.1 60.0 57.6 59.5 58.0 58.8 58.5 58.0 59.0 57.5 59.2 56.8 59.5 56.0 59.9 55.5 60.2 55.0 60.8 54.6 61.5 54.3 62.0 54.0 62.6 53.5 63.2 53.0 63.8 52.5 64.3 52.0 64.8 51.5 65.2 51.0 65.5 50.3 66.0 49.6 66.5 49.0 66.9 48.5 67.1 47.7 67.5 47.0 67.7 46.0 68.0 45.5 68.0 44.5 68.1 43.5 68.4 43.0 68.6 42.3 69.0 41.7 69.5 41.1 70.0 40.5 70.5 40.0 71.0 39.5 71.5 39.1 72.0 38.6 72.5 38.1 73.0 37.6 73.5 37.1 74.0 36.5 74.5 36.0 75.0 35.5 75.4 35.0 75.9 34.5 76.4 34.0 76.9 33.5 77.4 33.0 77.9 32.5 78.4 32.0 78.8 31.5 79.2 31.0 79.6 30.3 80.0 29.5 80.5 29.0 80.8 28.5 81.1 27.9 81.5 27.2 82.0 26.5 82.5 26.0 82.8 25.5 83.2 24.9 83.5 24.0 83.9 23.5 84.1 22.5 84.4 22.0 84.6 21.0 84.8 20.1 85.0 19.5 85.1 18.5 85.3 17.5 85.4 16.5 85.4 15.5 85.4 14.5 85.1 14.0 84.9 13.5 84.3 13.3 83.5 13.4 82.5 13.6 82.0 14.0 81.0 14.3 80.5 14.5 80.0 15.0 79.3 15.5 78.5 15.8 78.0 16.1 77.5 16.5 77.0 17.0 76.3 17.5 75.7 18.0 75.1 18.5 74.6 19.0 74.0 19.5 73.6 20.0 73.1 20.5 72.6 21.0 72.2 21.5 71.7 22.0 71.3 22.5 70.9 23.1 70.5 23.8 70.0 24.5 69.5 25.0 69.2 25.5 68.9 26.2 68.5 27.0 68.0 27.5 67.7 28.0 67.4 28.8 67.0 29.5 66.7 30.0 66.5 31.0 66.1 31.5 65.9 32.5 65.5 33.0 65.4 34.0 65.1 34.5 65.0 35.5 64.8 36.5 64.6 37.0 64.5 38.0 64.3 39.0 64.3 40.0 64.2 41.0 64.3 42.0 64.4 43.0 64.4 44.0 64.1 44.5 63.7 45.0 63.3 45.5 62.8 46.0 62.2 46.5 61.7 47.0 61.2 47.5 60.7 48.0 60.3 48.5 60.0 49.5 59.5 50.0 59.3 51.0 59.1 51.5 59.0 52.5 58.7 53.0 58.4 53.5 57.9 53.7 57.0 53.8 56.0 53.7 55.0 53.6 54.0 53.5 53.5 53.2 52.5 53.0 51.6 52.9 51.0 52.7 50.0 52.7 49.0 52.6 48.0 52.6 47.0 52.5 46.0 52.6 45.0 52.6 44.0 52.7 43.0 52.8 42.0 52.9 41.0 53.0 40.5 53.1 39.5 53.3 38.5 53.4 37.5 53.5 37.0 53.7 36.0 53.9 35.0 54.0 34.5 54.2 33.5 54.4 32.5 54.5 32.0 54.7 31.0 54.9 30.0 55.1 29.5 55.4 28.5 55.6 28.0 56.0 27.1 56.3 26.5 56.7 26.0 57.1 25.5 57.7 25.0 58.4 24.5M58.5 26.0 59.0 25.8 60.0 25.6 61.0 25.9 61.5 26.3 62.0 26.8 62.5 27.5 62.8 28.0 63.0 28.5 63.4 29.5 63.5 30.0 63.7 31.0 63.9 32.0 64.0 32.6 64.2 33.5 64.4 34.5 64.5 35.5 64.6 36.0 64.6 37.0 64.6 38.0 64.5 39.0 64.5 40.0 64.5 41.0 64.6 42.0 64.5 43.0 64.5 43.6 64.4 44.5 64.3 45.5 64.2 46.5 64.0 47.5 63.9 48.0 63.8 49.0 63.5 50.0 63.3 50.5 63.0 51.4 62.7 52.0 62.5 52.5 62.0 53.4 61.6 54.0 61.2 54.5 60.8 55.0 60.4 55.5 59.8 56.0 59.1 56.5 58.5 56.8 57.5 56.9 56.5 56.5 56.1 56.0 55.8 55.5 55.5 54.8 55.2 54.0 55.0 53.5 54.7 52.5 54.5 52.0 54.2 51.0 54.0 50.2 53.9 49.5 53.7 48.5 53.6 47.5 53.5 46.5 53.5 46.0 53.5 45.0 53.5 44.5 53.6 43.5 53.6 42.5 53.8 41.5 53.9 40.5 54.0 40.0 54.2 39.0 54.3 38.0 54.4 37.0 54.5 36.5 54.7 35.5 54.9 34.5 55.0 34.0 55.2 33.0 55.4 32.0 55.5 31.5 55.7 30.5 56.0 29.6 56.2 29.0 56.5 28.3 56.9 27.5 57.3 27.0 57.8 26.5 58.5 26.0M49.3 61.5 50.0 61.3 51.0 61.2 51.7 61.5 52.0 62.0 52.0 62.5 51.5 63.4 51.0 64.0 50.5 64.4 50.0 64.8 49.5 65.1 48.7 65.5 48.0 65.7 47.0 65.7 46.5 65.0 46.5 65.0 46.8 64.0 47.1 63.5 47.5 63.0 48.0 62.5 48.5 62.0 49.3 61.5M33.3 66.5 34.0 66.3 35.0 66.1 36.0 66.0 37.0 66.0 38.0 66.1 39.0 66.3 39.5 66.5 40.0 67.0 40.0 68.0 39.8 68.5 39.5 69.0 39.0 69.8 38.5 70.5 38.1 71.0 37.8 71.5 37.4 72.0 37.0 72.5 36.5 73.0 36.0 73.5 35.5 74.0 35.0 74.5 34.5 75.0 34.0 75.5 33.5 76.0 33.0 76.5 32.5 77.0 32.0 77.5 31.5 78.0 30.9 78.5 30.2 79.0 29.5 79.4 29.0 79.7 28.5 80.0 27.7 80.5 27.0 81.0 26.5 81.3 26.0 81.7 25.5 82.0 24.7 82.5 24.0 82.8 23.5 83.0 22.5 83.3 21.7 83.5 21.0 83.6 20.0 83.8 19.0 83.9 18.0 84.0 17.0 83.9 16.0 83.6 15.5 83.1 15.2 82.5 15.3 81.5 15.5 81.0 16.0 80.0 16.2 79.5 16.5 79.0 17.0 78.1 17.4 77.5 17.7 77.0 18.1 76.5 18.5 76.0 19.0 75.4 19.5 74.8 20.0 74.3 20.5 73.8 21.0 73.3 21.5 72.9 22.0 72.4 22.5 72.0 23.1 71.5 23.8 71.0 24.5 70.5 25.0 70.2 25.5 69.9 26.1 69.5 26.9 69.0 27.5 68.6 28.0 68.4 28.8 68.0 29.5 67.7 30.0 67.5 31.0 67.1 31.5 67.0 32.5 66.7 33.3 66.5M58.3 27.5 59.0 27.1 60.0 27.1 60.9 27.5 61.4 28.0 61.8 28.5 62.1 29.0 62.5 30.0 62.6 30.5 62.8 31.5 63.0 32.5 63.1 33.0 63.2 34.0 63.4 35.0 63.5 35.9 63.5 36.5 63.5 37.5 63.5 38.0 63.5 39.0 63.5 40.0 63.5 40.5 63.5 41.5 63.5 42.5 63.5 43.5 63.5 44.5 63.5 45.4 63.5 46.0 63.3 47.0 63.2 48.0 63.0 48.9 62.9 49.5 62.6 50.5 62.4 51.0 62.0 51.8 61.6 52.5 61.3 53.0 61.0 53.5 60.5 54.0 60.0 54.5 59.2 55.0 58.5 55.2 57.6 55.0 57.0 54.6 56.5 54.0 56.2 53.5 55.9 53.0 55.5 52.1 55.3 51.5 55.0 50.8 54.8 50.0 54.6 49.0 54.5 48.5 54.3 47.5 54.2 46.5 54.2 45.5 54.2 44.5 54.3 43.5 54.3 42.5 54.5 41.5 54.6 41.0 54.8 40.0 54.9 39.0 55.0 38.5 55.1 37.5 55.3 36.5 55.4 35.5 55.5 35.0 55.7 34.0 56.0 33.0 56.1 32.5 56.3 31.5 56.5 30.7 56.7 30.0 57.0 29.3 57.4 28.5 57.8 28.0 58.3 27.5M33.4 67.5 34.0 67.4 35.0 67.3 36.0 67.4 36.5 67.5 37.2 68.0 37.4 69.0 37.1 70.0 36.9 70.5 36.5 71.3 36.0 72.0 35.7 72.5 35.2 73.0 34.8 73.5 34.3 74.0 33.8 74.5 33.3 75.0 32.9 75.5 32.4 76.0 31.9 76.5 31.4 77.0 30.9 77.5 30.3 78.0 29.6 78.5 29.0 78.9 28.5 79.2 28.0 79.5 27.1 80.0 26.5 80.4 26.0 80.7 25.5 81.1 24.8 81.5 24.0 81.9 23.5 82.1 22.5 82.4 22.0 82.5 21.0 82.7 20.0 82.8 19.0 82.7 18.0 82.5 17.5 82.2 17.1 81.5 17.1 80.5 17.4 79.5 17.6 79.0 18.0 78.3 18.5 77.5 18.8 77.0 19.2 76.5 19.5 76.0 20.0 75.4 20.5 74.8 21.0 74.3 21.5 73.8 22.0 73.3 22.5 72.9 23.0 72.4 23.5 72.0 24.2 71.5 24.9 71.0 25.5 70.6 26.0 70.3 26.5 70.0 27.4 69.5 28.0 69.1 28.5 68.9 29.4 68.5 30.0 68.3 31.0 68.0 31.5 67.9 32.5 67.7 33.4 67.5M58.8 29.0 59.5 28.7 60.4 29.0 60.9 29.5 61.3 30.0 61.5 30.5 61.8 31.5 61.9 32.5 62.0 33.0 62.1 34.0 62.3 35.0 62.4 36.0 62.4 37.0 62.4 38.0 62.4 39.0 62.5 40.0 62.5 40.5 62.6 41.5 62.6 42.5 62.7 43.5 62.7 44.5 62.8 45.5 62.7 46.5 62.5 47.5 62.4 48.0 62.2 49.0 62.0 49.8 61.8 50.5 61.5 51.1 61.0 52.0 60.6 52.5 60.2 53.0 59.5 53.5 59.0 53.7 58.0 53.5 57.5 53.2 57.0 52.7 56.5 52.0 56.2 51.5 56.0 51.0 55.6 50.0 55.4 49.5 55.2 48.5 55.1 47.5 55.0 46.8 54.9 46.0 54.9 45.0 54.9 44.0 55.0 43.3 55.1 42.5 55.2 41.5 55.4 40.5 55.5 40.0 55.7 39.0 55.9 38.0 56.0 37.0 56.1 36.5 56.3 35.5 56.5 34.5 56.6 34.0 56.8 33.0 57.0 32.3 57.2 31.5 57.5 30.7 57.9 30.0 58.2 29.5 58.8 29.0M30.7 69.0 31.5 68.9 32.5 68.8 33.5 68.8 34.5 69.0 35.0 69.4 35.2 70.0 35.1 71.0 34.9 71.5 34.5 72.2 34.0 72.9 33.5 73.5 33.1 74.0 32.6 74.5 32.2 75.0 31.7 75.5 31.3 76.0 30.8 76.5 30.3 77.0 29.7 77.5 29.0 78.0 28.5 78.3 28.0 78.7 27.4 79.0 26.5 79.5 26.0 79.8 25.5 80.1 24.7 80.5 24.0 80.9 23.5 81.1 22.5 81.4 21.7 81.5 21.0 81.5 20.5 81.5 19.5 81.1 19.0 80.5 18.9 80.0 19.0 79.1 19.2 78.5 19.5 77.9 20.0 77.0 20.3 76.5 20.7 76.0 21.0 75.5 21.5 75.0 22.0 74.4 22.5 73.9 23.0 73.4 23.5 72.9 24.0 72.5 24.6 72.0 25.4 71.5 26.0 71.1 26.5 70.8 27.0 70.5 27.9 70.0 28.5 69.7 29.0 69.5 30.0 69.2 30.7 69.0M58.9 31.0 59.5 30.7 60.1 31.0 60.5 31.7 60.7 32.5 60.9 33.5 61.1 34.0 61.2 35.0 61.3 36.0 61.4 37.0 61.4 38.0 61.5 39.0 61.5 39.5 61.6 40.5 61.7 41.5 61.8 42.5 61.9 43.5 62.0 44.0 62.1 45.0 62.1 46.0 62.0 46.8 61.9 47.5 61.7 48.5 61.5 49.2 61.2 50.0 61.0 50.5 60.5 51.3 60.0 51.9 59.5 52.3 58.5 52.4 57.8 52.0 57.3 51.5 56.9 51.0 56.5 50.3 56.2 49.5 56.0 48.9 55.8 48.0 55.7 47.0 55.6 46.0 55.6 45.0 55.6 44.0 55.7 43.0 55.8 42.0 56.0 41.1 56.2 40.5 56.4 39.5 56.5 38.9 56.7 38.0 56.8 37.0 57.0 36.0 57.1 35.5 57.4 34.5 57.5 34.0 57.8 33.0 58.0 32.5 58.5 31.5 58.9 31.0M30.1 70.0 31.0 69.9 32.0 69.9 32.5 70.1 33.1 70.5 33.4 71.5 33.0 72.5 32.7 73.0 32.4 73.5 32.0 74.0 31.5 74.6 31.0 75.2 30.5 75.7 30.0 76.2 29.5 76.7 29.0 77.1 28.5 77.5 27.8 78.0 27.0 78.5 26.5 78.7 25.8 79.0 25.0 79.4 24.5 79.6 23.7 80.0 23.0 80.2 22.0 80.4 21.0 80.1 20.5 79.5 20.4 79.0 20.5 78.5 20.9 77.5 21.1 77.0 21.5 76.4 22.0 75.6 22.5 75.0 22.9 74.5 23.4 74.0 23.9 73.5 24.4 73.0 25.0 72.5 25.5 72.2 26.0 71.8 26.5 71.5 27.4 71.0 28.0 70.7 28.5 70.5 29.5 70.1 30.1 70.0M58.7 35.0 59.5 34.7 59.9 35.5 60.0 36.0 60.1 37.0 60.3 38.0 60.5 39.0 60.6 39.5 60.7 40.5 60.9 41.5 61.0 42.2 61.1 43.0 61.3 44.0 61.5 45.0 61.5 45.5 61.5 46.0 61.4 47.0 61.1 48.0 61.0 48.5 60.6 49.5 60.4 50.0 60.0 50.6 59.5 51.0 58.5 51.1 58.0 50.9 57.5 50.4 57.0 49.7 56.7 49.0 56.5 48.3 56.4 47.5 56.3 46.5 56.2 45.5 56.2 44.5 56.3 43.5 56.5 42.5 56.6 42.0 56.8 41.0 57.0 40.3 57.2 39.5 57.5 38.5 57.6 38.0 57.8 37.0 58.0 36.2 58.3 35.5 58.7 35.0M29.7 71.0 30.5 71.0 31.0 71.1 31.6 71.5 31.7 72.5 31.5 73.1 31.0 73.9 30.6 74.5 30.2 75.0 29.7 75.5 29.2 76.0 28.7 76.5 28.1 77.0 27.5 77.4 27.0 77.7 26.3 78.0 25.5 78.3 24.7 78.5 24.0 78.7 23.0 78.9 22.3 78.5 22.3 77.5 22.5 76.8 22.9 76.0 23.2 75.5 23.5 75.0 24.0 74.4 24.5 73.8 25.0 73.3 25.5 72.9 26.1 72.5 26.9 72.0 27.5 71.7 28.0 71.5 29.0 71.1 29.7 71.0M58.5 40.0 59.0 39.8 59.5 40.5 59.7 41.0 60.0 42.0 60.1 42.5 60.5 43.5 60.6 44.0 60.8 45.0 60.9 46.0 60.7 47.0 60.5 47.8 60.2 48.5 60.0 49.0 59.5 49.6 58.5 49.9 57.9 49.5 57.5 49.0 57.2 48.0 57.0 47.2 56.9 46.5 56.9 45.5 56.9 44.5 57.0 43.9 57.2 43.0 57.5 42.0 57.7 41.5 58.0 40.7 58.5 40.0M27.6 72.5 28.5 72.2 29.5 72.2 30.1 72.5 30.1 73.5 29.9 74.0 29.5 74.5 29.0 75.2 28.5 75.7 28.0 76.2 27.5 76.6 26.8 77.0 26.0 77.2 25.0 77.2 24.5 77.0 24.2 76.0 24.5 75.2 24.9 74.5 25.4 74.0 25.9 73.5 26.5 73.1 27.0 72.8 27.6 72.5" fill="none" stroke="#333" stroke-width="0.7"/></svg>
<path d="M0 0H97.45V99.4" fill="none" stroke="#8a8a8a" stroke-width="1.1"/>
<path d="M0 0V99.4H97.45" fill="none" stroke="#444" stroke-width="1.1"/>
<path d="M40.9 0V99.4M0 59.5H40.9" stroke="#555" stroke-width="1.1" fill="none"/>
<path d="M40.9 59.5H97.45" stroke="#777" stroke-width="1.1" fill="none"/>
<path d="M7.3 99.4v1.6M0 91.9h-1.4M11.6 99.4v1.6M0 87.5h-1.4M14.7 99.4v1.6M0 84.4h-1.4M17.0 99.4v1.6M0 82.0h-1.4M19.0 99.4v1.6M0 80.1h-1.4M20.6 99.4v1.6M0 78.4h-1.4M22.0 99.4v1.6M0 77.0h-1.4M23.2 99.4v1.6M0 75.7h-1.4M31.7 99.4v1.6M0 67.1h-1.4M36.0 99.4v1.6M0 62.7h-1.4M39.0 99.4v1.6M0 59.6h-1.4M41.4 99.4v1.6M0 57.2h-1.4M43.3 99.4v1.6M0 55.2h-1.4M45.0 99.4v1.6M0 53.5h-1.4M46.4 99.4v1.6M0 52.1h-1.4M47.6 99.4v1.6M0 50.8h-1.4M56.1 99.4v1.6M0 42.2h-1.4M60.3 99.4v1.6M0 37.8h-1.4M63.4 99.4v1.6M0 34.7h-1.4M65.8 99.4v1.6M0 32.3h-1.4M67.7 99.4v1.6M0 30.4h-1.4M69.3 99.4v1.6M0 28.7h-1.4M70.7 99.4v1.6M0 27.3h-1.4M72.0 99.4v1.6M0 26.0h-1.4M80.4 99.4v1.6M0 17.4h-1.4M84.7 99.4v1.6M0 13.0h-1.4M87.8 99.4v1.6M0 9.9h-1.4M90.1 99.4v1.6M0 7.5h-1.4M92.0 99.4v1.6M0 5.5h-1.4M93.7 99.4v1.6M0 3.8h-1.4M95.1 99.4v1.6M0 2.4h-1.4M96.3 99.4v1.6M0 1.1h-1.4" stroke="#666" stroke-width="0.6" fill="none"/>
<text class="p" x="96.90" y="9.9" font-size="10.7" font-weight="700" text-anchor="end" fill="#111">56%</text>
<text class="p" x="97.15" y="97.90" font-size="10.7" font-weight="700" text-anchor="end" fill="#111">10%</text>
<text class="p" x="-0.15" y="97.90" font-size="10.7" font-weight="700" fill="#111">34%</text>
<text class="s" x="-5.6" y="116.2" font-size="10" font-weight="700">10<tspan dx="0.6" dy="-4.3" font-size="8.8">0</tspan></text>
<text class="s" x="-3.7" y="104.2" font-size="10" font-weight="700" text-anchor="end">10<tspan dx="0.6" dy="-4.3" font-size="8.8">0</tspan></text>
<text class="s" x="42.5" y="116.2" font-size="10" font-weight="700">10<tspan dx="0.6" dy="-4.3" font-size="8.8">2</tspan></text>
<text class="s" x="-3.7" y="54.5" font-size="10" font-weight="700" text-anchor="end">10<tspan dx="0.6" dy="-4.3" font-size="8.8">2</tspan></text>
<text class="s" x="88.9" y="116.2" font-size="10" font-weight="700">10<tspan dx="0.6" dy="-4.3" font-size="8.8">4</tspan></text>
<text class="s" x="-3.7" y="4.8" font-size="10" font-weight="700" text-anchor="end">10<tspan dx="0.6" dy="-4.3" font-size="8.8">4</tspan></text>
</g>
</svg>
</body></html>
